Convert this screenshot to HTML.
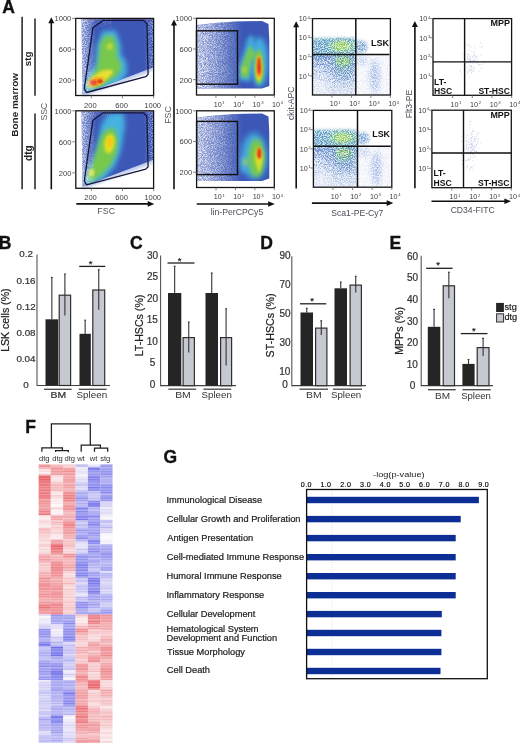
<!DOCTYPE html>
<html><head><meta charset="utf-8"><style>
html,body{margin:0;padding:0;background:#fff;width:520px;height:743px;overflow:hidden;}
svg{display:block;font-family:"Liberation Sans", sans-serif;filter:blur(0.35px);}
</style></head><body>
<svg width="520" height="743" viewBox="0 0 520 743" font-family='"Liberation Sans", sans-serif'><defs><filter id="s1" x="0" y="0" width="1" height="1" color-interpolation-filters="sRGB"><feTurbulence type="fractalNoise" baseFrequency="1.1" numOctaves="1" seed="3"/><feColorMatrix type="matrix" values="0 0 0 0 1.000 0 0 0 0 1.000 0 0 0 0 1.000 6 0 0 0 -2.6"/><feGaussianBlur stdDeviation="0.3"/><feComposite in2="SourceGraphic" operator="in"/></filter><filter id="s2" x="0" y="0" width="1" height="1" color-interpolation-filters="sRGB"><feTurbulence type="fractalNoise" baseFrequency="1.1" numOctaves="1" seed="11"/><feColorMatrix type="matrix" values="0 0 0 0 1.000 0 0 0 0 1.000 0 0 0 0 1.000 6 0 0 0 -2.6"/><feGaussianBlur stdDeviation="0.3"/><feComposite in2="SourceGraphic" operator="in"/></filter><filter id="s3" x="0" y="0" width="1" height="1" color-interpolation-filters="sRGB"><feTurbulence type="fractalNoise" baseFrequency="0.85" numOctaves="1" seed="5"/><feColorMatrix type="matrix" values="0 0 0 0 0.235 0 0 0 0 0.341 0 0 0 0 0.714 6 0 0 0 -2.6"/><feComposite in2="SourceGraphic" operator="in"/></filter><filter id="s4" x="0" y="0" width="1" height="1" color-interpolation-filters="sRGB"><feTurbulence type="fractalNoise" baseFrequency="1.13" numOctaves="1" seed="15"/><feColorMatrix type="matrix" values="0 0 0 0 0.196 0 0 0 0 0.298 0 0 0 0 0.667 7 0 0 0 -3.4"/><feComposite in2="SourceGraphic" operator="in"/></filter><filter id="b1" x="-50%" y="-50%" width="200%" height="200%"><feGaussianBlur stdDeviation="1.2"/></filter><clipPath id="c1"><polygon points="81.5,19.2 153.0,19.2 153.0,67.5 82.5,94.2"/></clipPath><filter id="b2" x="-50%" y="-50%" width="200%" height="200%"><feGaussianBlur stdDeviation="2.4"/></filter><filter id="b3" x="-50%" y="-50%" width="200%" height="200%"><feGaussianBlur stdDeviation="2.0"/></filter><filter id="b4" x="-50%" y="-50%" width="200%" height="200%"><feGaussianBlur stdDeviation="1.3"/></filter><filter id="b5" x="-50%" y="-50%" width="200%" height="200%"><feGaussianBlur stdDeviation="1.5"/></filter><filter id="b6" x="-50%" y="-50%" width="200%" height="200%"><feGaussianBlur stdDeviation="1.1"/></filter><filter id="b7" x="-50%" y="-50%" width="200%" height="200%"><feGaussianBlur stdDeviation="0.8"/></filter><filter id="b8" x="-50%" y="-50%" width="200%" height="200%"><feGaussianBlur stdDeviation="0.7"/></filter><linearGradient id="g1" x1="0" y1="0" x2="1" y2="0"><stop offset="0" stop-color="#fff" stop-opacity="0.45"/><stop offset="0.5" stop-color="#fff" stop-opacity="0.2"/><stop offset="1" stop-color="#fff" stop-opacity="0"/></linearGradient><linearGradient id="g2" x1="0" y1="0" x2="1" y2="0"><stop offset="0" stop-color="#fff" stop-opacity="0.7"/><stop offset="0.5" stop-color="#fff" stop-opacity="0.4"/><stop offset="1" stop-color="#fff" stop-opacity="0"/></linearGradient><linearGradient id="g3" x1="0" y1="0" x2="0" y2="1"><stop offset="0" stop-color="#fff" stop-opacity="0.3"/><stop offset="1" stop-color="#fff" stop-opacity="0"/></linearGradient><linearGradient id="g4" x1="0" y1="0" x2="1" y2="0"><stop offset="0" stop-color="#fff" stop-opacity="0"/><stop offset="1" stop-color="#fff" stop-opacity="0.55"/></linearGradient><clipPath id="c2"><polygon points="81.5,111.6 153.0,111.6 153.0,159.9 82.5,186.6"/></clipPath><filter id="b9" x="-50%" y="-50%" width="200%" height="200%"><feGaussianBlur stdDeviation="2.5"/></filter><filter id="b10" x="-50%" y="-50%" width="200%" height="200%"><feGaussianBlur stdDeviation="2.1"/></filter><filter id="b11" x="-50%" y="-50%" width="200%" height="200%"><feGaussianBlur stdDeviation="1.7"/></filter><linearGradient id="g5" x1="0" y1="0" x2="1" y2="0"><stop offset="0" stop-color="#fff" stop-opacity="0.45"/><stop offset="0.5" stop-color="#fff" stop-opacity="0.2"/><stop offset="1" stop-color="#fff" stop-opacity="0"/></linearGradient><linearGradient id="g6" x1="0" y1="0" x2="1" y2="0"><stop offset="0" stop-color="#fff" stop-opacity="0.7"/><stop offset="0.5" stop-color="#fff" stop-opacity="0.4"/><stop offset="1" stop-color="#fff" stop-opacity="0"/></linearGradient><linearGradient id="g7" x1="0" y1="0" x2="0" y2="1"><stop offset="0" stop-color="#fff" stop-opacity="0.3"/><stop offset="1" stop-color="#fff" stop-opacity="0"/></linearGradient><linearGradient id="g8" x1="0" y1="0" x2="1" y2="0"><stop offset="0" stop-color="#fff" stop-opacity="0"/><stop offset="1" stop-color="#fff" stop-opacity="0.55"/></linearGradient><clipPath id="c3"><polygon points="197.4,25.0 215.0,23.0 235.0,21.5 262.0,21.0 268.5,24.0 269.3,40.0 269.3,86.0 262.0,88.6 197.4,88.6"/></clipPath><filter id="b12" x="-50%" y="-50%" width="200%" height="200%"><feGaussianBlur stdDeviation="2.2"/></filter><filter id="b13" x="-50%" y="-50%" width="200%" height="200%"><feGaussianBlur stdDeviation="1.6"/></filter><filter id="b14" x="-50%" y="-50%" width="200%" height="200%"><feGaussianBlur stdDeviation="1.0"/></filter><linearGradient id="g9" x1="0" y1="0" x2="1" y2="0"><stop offset="0" stop-color="#fff" stop-opacity="0.62"/><stop offset="0.35" stop-color="#fff" stop-opacity="0.38"/><stop offset="0.7" stop-color="#fff" stop-opacity="0.14"/><stop offset="1" stop-color="#fff" stop-opacity="0"/></linearGradient><linearGradient id="g10" x1="0" y1="0" x2="1" y2="0"><stop offset="0" stop-color="#fff" stop-opacity="0.8"/><stop offset="0.3" stop-color="#fff" stop-opacity="0.55"/><stop offset="0.6" stop-color="#fff" stop-opacity="0.3"/><stop offset="0.9" stop-color="#fff" stop-opacity="0.06"/><stop offset="1" stop-color="#fff" stop-opacity="0"/></linearGradient><clipPath id="c4"><polygon points="197.4,117.5 215.0,115.5 235.0,114.0 262.0,113.5 268.5,116.5 269.3,132.5 269.3,178.5 262.0,181.1 197.4,181.1"/></clipPath><filter id="b15" x="-50%" y="-50%" width="200%" height="200%"><feGaussianBlur stdDeviation="3.0"/></filter><filter id="b16" x="-50%" y="-50%" width="200%" height="200%"><feGaussianBlur stdDeviation="1.4"/></filter><linearGradient id="g11" x1="0" y1="0" x2="1" y2="0"><stop offset="0" stop-color="#fff" stop-opacity="0.62"/><stop offset="0.35" stop-color="#fff" stop-opacity="0.38"/><stop offset="0.7" stop-color="#fff" stop-opacity="0.14"/><stop offset="1" stop-color="#fff" stop-opacity="0"/></linearGradient><linearGradient id="g12" x1="0" y1="0" x2="1" y2="0"><stop offset="0" stop-color="#fff" stop-opacity="0.8"/><stop offset="0.3" stop-color="#fff" stop-opacity="0.55"/><stop offset="0.6" stop-color="#fff" stop-opacity="0.3"/><stop offset="0.9" stop-color="#fff" stop-opacity="0.06"/><stop offset="1" stop-color="#fff" stop-opacity="0"/></linearGradient><filter id="s5" x="0" y="0" width="1" height="1" color-interpolation-filters="sRGB"><feTurbulence type="fractalNoise" baseFrequency="0.93" numOctaves="1" seed="21"/><feColorMatrix type="matrix" values="0 0 0 0 1.000 0 0 0 0 1.000 0 0 0 0 1.000 8 0 0 0 -3.5"/><feGaussianBlur stdDeviation="0.2"/><feComposite in2="SourceGraphic" operator="in"/></filter><filter id="s6" x="0" y="0" width="1" height="1" color-interpolation-filters="sRGB"><feTurbulence type="fractalNoise" baseFrequency="0.87" numOctaves="1" seed="8"/><feColorMatrix type="matrix" values="0 0 0 0 0.235 0 0 0 0 0.353 0 0 0 0 0.686 8 0 0 0 -4.3"/><feGaussianBlur stdDeviation="0.2"/><feComposite in2="SourceGraphic" operator="in"/></filter><clipPath id="c5"><polygon points="313.1,19.2 389.8,19.2 389.8,94.4 313.1,94.4"/></clipPath><linearGradient id="g13" x1="0" y1="0" x2="0" y2="1"><stop offset="0" stop-color="#7098d0" stop-opacity="1"/><stop offset="0.3" stop-color="#9ab4e0" stop-opacity="1"/><stop offset="0.7" stop-color="#c2d2ec" stop-opacity="1"/><stop offset="1" stop-color="#dae3f3" stop-opacity="1"/></linearGradient><filter id="b17" x="-50%" y="-50%" width="200%" height="200%"><feGaussianBlur stdDeviation="2.6"/></filter><filter id="b18" x="-50%" y="-50%" width="200%" height="200%"><feGaussianBlur stdDeviation="1.8"/></filter><linearGradient id="g14" x1="0" y1="0" x2="0" y2="1"><stop offset="0" stop-color="#fff" stop-opacity="0.6"/><stop offset="0.5" stop-color="#fff" stop-opacity="0.4"/><stop offset="1" stop-color="#fff" stop-opacity="0.15"/></linearGradient><clipPath id="c6"><polygon points="314.0,111.0 391.2,111.0 391.2,186.6 314.0,186.6"/></clipPath><linearGradient id="g15" x1="0" y1="0" x2="0" y2="1"><stop offset="0" stop-color="#7098d0" stop-opacity="1"/><stop offset="0.3" stop-color="#9ab4e0" stop-opacity="1"/><stop offset="0.7" stop-color="#c2d2ec" stop-opacity="1"/><stop offset="1" stop-color="#dae3f3" stop-opacity="1"/></linearGradient><linearGradient id="g16" x1="0" y1="0" x2="0" y2="1"><stop offset="0" stop-color="#fff" stop-opacity="0.6"/><stop offset="0.5" stop-color="#fff" stop-opacity="0.4"/><stop offset="1" stop-color="#fff" stop-opacity="0.15"/></linearGradient><filter id="b19" x="-50%" y="-50%" width="200%" height="200%"><feGaussianBlur stdDeviation="0.6"/></filter><clipPath id="c7"><polygon points="38.4,464.2 112.7,464.2 112.7,743.0 38.4,743.0"/></clipPath></defs><text x="2.20" y="12.70" font-size="17.50" font-weight="bold" fill="#111" stroke="#111" stroke-width="0.35">A</text>
<line x1="22.10" y1="16.80" x2="22.10" y2="189.30" stroke="#222" stroke-width="1.5"/>
<line x1="35.00" y1="18.40" x2="35.00" y2="95.80" stroke="#222" stroke-width="1.5"/>
<line x1="35.00" y1="113.40" x2="35.00" y2="189.30" stroke="#222" stroke-width="1.5"/>
<text transform="translate(17.89,136.65) rotate(-90)" x="0" y="0" font-size="9.96" font-weight="bold" fill="#222">Bone marrow</text>
<text transform="translate(31.48,66.14) rotate(-90)" x="0" y="0" font-size="9.79" font-weight="bold" fill="#222">stg</text>
<text transform="translate(31.87,160.90) rotate(-90)" x="0" y="0" font-size="10.00" font-weight="bold" fill="#222">dtg</text>
<line x1="51.30" y1="21.30" x2="51.30" y2="189.30" stroke="#111" stroke-width="1.6"/>
<path d="M48.30,23.30 L51.30,17.30 L54.30,23.30 Z" fill="#111"/>
<line x1="174.00" y1="23.60" x2="174.00" y2="189.30" stroke="#111" stroke-width="1.6"/>
<path d="M171.00,25.60 L174.00,19.60 L177.00,25.60 Z" fill="#111"/>
<line x1="296.20" y1="25.30" x2="296.20" y2="188.60" stroke="#111" stroke-width="1.6"/>
<path d="M293.20,27.30 L296.20,21.30 L299.20,27.30 Z" fill="#111"/>
<line x1="414.90" y1="25.00" x2="414.90" y2="188.30" stroke="#111" stroke-width="1.6"/>
<path d="M411.90,27.00 L414.90,21.00 L417.90,27.00 Z" fill="#111"/>
<line x1="76.30" y1="203.90" x2="150.30" y2="203.90" stroke="#111" stroke-width="1.6"/>
<path d="M147.70,201.10 L154.30,203.90 L147.70,206.70 Z" fill="#111"/>
<line x1="196.70" y1="204.00" x2="270.80" y2="204.00" stroke="#111" stroke-width="1.6"/>
<path d="M268.20,201.20 L274.80,204.00 L268.20,206.80 Z" fill="#111"/>
<line x1="311.90" y1="203.10" x2="389.30" y2="203.10" stroke="#111" stroke-width="1.6"/>
<path d="M386.70,200.30 L393.30,203.10 L386.70,205.90 Z" fill="#111"/>
<line x1="431.50" y1="201.20" x2="507.00" y2="201.20" stroke="#111" stroke-width="1.6"/>
<path d="M504.40,198.40 L511.00,201.20 L504.40,204.00 Z" fill="#111"/>
<text x="97.20" y="214.24" font-size="8.80" textLength="17.81" lengthAdjust="spacing" fill="#555">FSC</text>
<text x="210.63" y="215.00" font-size="8.70" fill="#4e4b58">lin-PerCPCy5</text>
<text x="331.31" y="216.00" font-size="8.60" fill="#4e4b58">Sca1-PE-Cy7</text>
<text x="450.66" y="213.40" font-size="8.60" fill="#4e4b58">CD34-FITC</text>
<text transform="translate(46.95,120.39) rotate(-90)" x="0" y="0" font-size="8.80" textLength="17.62" lengthAdjust="spacing" fill="#555">SSC</text>
<text transform="translate(170.85,123.80) rotate(-90)" x="0" y="0" font-size="8.80" textLength="17.61" lengthAdjust="spacing" fill="#555">FSC</text>
<text transform="translate(293.72,120.03) rotate(-90)" x="0" y="0" font-size="8.60" fill="#4e4b58">ckit-APC</text>
<text transform="translate(411.67,118.34) rotate(-90)" x="0" y="0" font-size="8.60" fill="#4e4b58">Flt3-PE</text>
<polygon points="82.0,92.0 153.0,65.0 153.0,71.0 83.0,97.0" fill="#b4c2e8" filter="url(#b1)" opacity="0.8"/>
<g clip-path="url(#c1)">
<rect x="75.70" y="18.40" width="77.90" height="77.10" fill="#3c57b6"/>
<rect x="75.70" y="18.40" width="77.90" height="2.00" fill="#50418c" opacity="0.7"/>
<polygon points="102.5,31.0 115.5,30.5 120.5,44.0 121.0,55.0 126.0,61.0 127.0,73.0 120.0,85.0 100.0,92.0 85.0,94.0 84.0,86.0 89.0,74.0 95.5,64.0 97.0,46.0" fill="#44b2e2" filter="url(#b2)"/>
<polygon points="104.5,36.0 113.5,35.5 117.0,46.0 117.0,57.0 121.0,63.0 121.0,71.0 113.0,79.0 100.0,86.0 89.0,89.0 87.0,85.0 92.0,76.0 97.0,68.0 99.0,56.0 100.0,44.0" fill="#78c84c" filter="url(#b3)"/>
<ellipse cx="109.8" cy="46.5" rx="3" ry="3.5" fill="#b8d840" filter="url(#b4)"/>
<polygon points="101.0,71.0 108.0,69.5 112.0,70.0 113.0,73.0 107.0,79.0 98.0,85.5 90.0,87.5 87.5,84.0 92.0,77.0" fill="#e8e030" filter="url(#b5)"/>
<ellipse cx="96.5" cy="81.6" rx="8" ry="4.2" fill="#f49a1e" filter="url(#b6)" transform="rotate(-12 96.5 81.6)"/>
<ellipse cx="93" cy="82.6" rx="3.6" ry="2.6" fill="#e0301e" filter="url(#b7)"/>
<ellipse cx="100" cy="81.3" rx="2.6" ry="2.1" fill="#e84a1e" filter="url(#b8)"/>
<rect x="80.00" y="18.40" width="16.00" height="77.10" fill="url(#g1)"/>
<rect x="80.00" y="18.40" width="16.00" height="77.10" fill="url(#g2)" filter="url(#s1)"/>
<rect x="82.00" y="18.40" width="30.00" height="10.00" fill="url(#g3)" filter="url(#s2)"/>
<rect x="144.00" y="18.40" width="10.00" height="77.10" fill="url(#g4)" filter="url(#s2)"/>
</g>
<polygon points="92.9,27.8 103.2,20.4 143.4,20.4 146.9,23.9 148.1,74.4 145.8,76.7 86.6,92.5 84.3,88.6" fill="none" stroke="#16163a" stroke-width="1.3" stroke-linejoin="round"/>
<polygon points="82.0,184.4 153.0,157.4 153.0,163.4 83.0,189.4" fill="#b4c2e8" filter="url(#b1)" opacity="0.8"/>
<g clip-path="url(#c2)">
<rect x="75.80" y="110.80" width="77.80" height="77.50" fill="#3c57b6"/>
<rect x="75.80" y="110.80" width="77.80" height="2.00" fill="#48489a" opacity="0.55"/>
<polygon points="105.0,118.0 112.0,113.0 124.0,113.0 125.0,126.0 121.0,150.0 115.0,166.0 104.0,179.0 92.0,185.0 85.0,185.0 84.0,176.0 93.5,160.0 98.5,140.0 101.0,126.0" fill="#44b2e2" filter="url(#b9)"/>
<polygon points="107.0,129.0 114.0,128.0 117.5,138.0 116.5,154.0 110.0,166.0 100.0,176.0 90.0,182.0 87.0,178.0 92.0,166.0 97.0,149.0 101.0,136.0" fill="#78c84c" filter="url(#b10)"/>
<ellipse cx="109.5" cy="143.5" rx="5.2" ry="9.8" fill="#e2e026" filter="url(#b11)" transform="rotate(8 109.5 143.5)"/>
<ellipse cx="110" cy="142" rx="3" ry="5.2" fill="#f8c818" filter="url(#b1)"/>
<ellipse cx="91.4" cy="172.7" rx="3.0" ry="3.4" fill="#d8e040" filter="url(#b1)"/>
<rect x="80.00" y="110.80" width="16.00" height="77.50" fill="url(#g5)"/>
<rect x="80.00" y="110.80" width="16.00" height="77.50" fill="url(#g6)" filter="url(#s1)"/>
<rect x="82.00" y="110.80" width="30.00" height="10.00" fill="url(#g7)" filter="url(#s2)"/>
<rect x="144.00" y="110.80" width="10.00" height="77.50" fill="url(#g8)" filter="url(#s2)"/>
</g>
<polygon points="92.9,120.2 103.2,112.8 143.4,112.8 146.9,116.3 148.1,166.8 145.8,169.1 86.6,184.9 84.3,181.0" fill="none" stroke="#16163a" stroke-width="1.3" stroke-linejoin="round"/>
<g clip-path="url(#c3)">
<rect x="196.50" y="18.30" width="77.80" height="76.70" fill="#3c57b6"/>
<polygon points="239.5,80.0 239.0,68.0 243.0,55.0 247.0,40.0 250.0,35.0 254.0,37.0 255.0,50.0 253.0,66.0 250.0,82.0" fill="#44b2e2" filter="url(#b12)" opacity="0.95"/>
<ellipse cx="259.5" cy="62" rx="8.5" ry="25" fill="#44b2e2" filter="url(#b9)" opacity="0.95"/>
<polygon points="241.0,77.0 241.5,66.0 245.0,56.0 249.0,47.0 252.0,46.0 253.0,55.0 250.0,68.0 248.0,78.0" fill="#78c84c" filter="url(#b13)" opacity="0.9"/>
<ellipse cx="252.5" cy="55" rx="4" ry="4" fill="#78c84c" filter="url(#b13)" opacity="0.8"/>
<ellipse cx="244.4" cy="70" rx="2.5" ry="3.2" fill="#a8d040" filter="url(#b1)"/>
<ellipse cx="259" cy="67" rx="4.6" ry="17.5" fill="#78c84c" filter="url(#b13)"/>
<ellipse cx="259" cy="68" rx="3.2" ry="13" fill="#f0e228" filter="url(#b1)"/>
<ellipse cx="259.2" cy="72" rx="2.6" ry="6" fill="#f49a1e" filter="url(#b14)"/>
<ellipse cx="259" cy="65.5" rx="2.0" ry="9" fill="#e0301e" filter="url(#b7)"/>
<rect x="197.00" y="18.30" width="46.00" height="76.70" fill="url(#g9)"/>
<rect x="197.00" y="18.30" width="46.00" height="76.70" fill="url(#g10)" filter="url(#s1)"/>
<rect x="197.00" y="18.30" width="46.00" height="76.70" fill="url(#g10)" fill-opacity="0.5" filter="url(#s4)"/>
</g>
<rect x="196.50" y="30.80" width="41.00" height="53.40" fill="none" stroke="#111" stroke-width="1.4"/>
<g clip-path="url(#c4)">
<rect x="196.60" y="110.80" width="77.70" height="76.70" fill="#3c57b6"/>
<ellipse cx="254" cy="156" rx="12.5" ry="23" fill="#44b2e2" filter="url(#b15)" opacity="0.95"/>
<ellipse cx="244.5" cy="164" rx="4" ry="9" fill="#44b2e2" filter="url(#b3)" opacity="0.9"/>
<ellipse cx="256.5" cy="158" rx="8" ry="19" fill="#78c84c" filter="url(#b12)"/>
<ellipse cx="245.5" cy="162" rx="3" ry="4" fill="#8cc870" filter="url(#b13)" opacity="0.8"/>
<ellipse cx="259" cy="157" rx="3.6" ry="10" fill="#f0e228" filter="url(#b16)"/>
<ellipse cx="259" cy="166" rx="2" ry="6" fill="#c8dc30" filter="url(#b1)"/>
<ellipse cx="259.2" cy="153.5" rx="2.1" ry="5.8" fill="#e0301e" filter="url(#b7)"/>
<rect x="197.00" y="110.80" width="46.00" height="76.70" fill="url(#g11)"/>
<rect x="197.00" y="110.80" width="46.00" height="76.70" fill="url(#g12)" filter="url(#s1)"/>
<rect x="197.00" y="110.80" width="46.00" height="76.70" fill="url(#g12)" fill-opacity="0.5" filter="url(#s4)"/>
</g>
<rect x="196.60" y="121.40" width="40.90" height="53.20" fill="none" stroke="#111" stroke-width="1.4"/>
<g clip-path="url(#c5)">
<rect x="312.5" y="54.6" width="43.30000000000001" height="40.4" fill="url(#g13)"/>
<ellipse cx="343.5" cy="66.6" rx="11" ry="14" fill="#6f9ccc" filter="url(#b15)" opacity="0.9"/>
<ellipse cx="343.5" cy="59.6" rx="10" ry="6" fill="#64a8b4" filter="url(#b12)" opacity="0.9"/>
<ellipse cx="318.5" cy="80.6" rx="8" ry="16" fill="#dfe7f5" filter="url(#b15)" opacity="0.6"/>
<rect x="355.8" y="54.6" width="34.599999999999966" height="40.4" fill="#f5f7fc"/>
<ellipse cx="374.8" cy="76.6" rx="5" ry="17" fill="#a0b8e4" filter="url(#b17)" opacity="0.9"/>
<ellipse cx="361.8" cy="60.6" rx="6" ry="5" fill="#c4d4ee" filter="url(#b3)" opacity="0.9"/>
<rect x="309.5" y="38.1" width="46.30000000000001" height="18" rx="3" fill="#5c9cc4" filter="url(#b16)"/>
<ellipse cx="360.8" cy="46.6" rx="7" ry="6.5" fill="#84aad6" filter="url(#b18)"/>
<ellipse cx="341.5" cy="46.1" rx="15" ry="6.5" fill="#6cb69c" filter="url(#b3)"/>
<ellipse cx="341.5" cy="46.1" rx="8.5" ry="4.5" fill="#92cc58" filter="url(#b13)"/>
<ellipse cx="343.5" cy="62.6" rx="9" ry="7.5" fill="#6cb4a0" filter="url(#b3)" opacity="0.9"/>
<ellipse cx="343.0" cy="61.1" rx="7" ry="4.5" fill="#84c46c" filter="url(#b13)"/>
<rect x="312.50" y="18.60" width="77.90" height="76.40" fill="#fff" fill-opacity="0.7" filter="url(#s5)"/>
<rect x="312.50" y="54.60" width="43.30" height="40.40" fill="url(#g14)" filter="url(#s6)"/>
<ellipse cx="320.5" cy="87.0" rx="10" ry="9" fill="#ffffff" filter="url(#b15)" opacity="0.35"/>
<rect x="355.80" y="54.60" width="34.60" height="40.40" fill="#fff" fill-opacity="0.1" filter="url(#s6)"/>
</g>
<line x1="355.80" y1="18.60" x2="355.80" y2="95.00" stroke="#111" stroke-width="1.5"/>
<line x1="312.50" y1="54.60" x2="389.40" y2="54.60" stroke="#111" stroke-width="1.5"/>
<text x="370.91" y="45.95" font-size="9.14" font-weight="bold" fill="#111">LSK</text>
<g clip-path="url(#c6)">
<rect x="313.4" y="146.2" width="44.10000000000002" height="41.0" fill="url(#g15)"/>
<ellipse cx="344.4" cy="158.2" rx="11" ry="14" fill="#6f9ccc" filter="url(#b15)" opacity="0.9"/>
<ellipse cx="344.4" cy="151.2" rx="10" ry="6" fill="#64a8b4" filter="url(#b12)" opacity="0.9"/>
<ellipse cx="319.4" cy="172.2" rx="8" ry="16" fill="#dfe7f5" filter="url(#b15)" opacity="0.6"/>
<rect x="357.5" y="146.2" width="34.30000000000001" height="41.0" fill="#f5f7fc"/>
<ellipse cx="376.5" cy="168.2" rx="5" ry="17" fill="#a0b8e4" filter="url(#b17)" opacity="0.9"/>
<ellipse cx="363.5" cy="152.2" rx="6" ry="5" fill="#c4d4ee" filter="url(#b3)" opacity="0.9"/>
<rect x="310.4" y="129.7" width="47.10000000000002" height="18" rx="3" fill="#5c9cc4" filter="url(#b16)"/>
<ellipse cx="362.5" cy="138.2" rx="7" ry="6.5" fill="#84aad6" filter="url(#b18)"/>
<ellipse cx="342.4" cy="137.7" rx="15" ry="6.5" fill="#6cb69c" filter="url(#b3)"/>
<ellipse cx="342.4" cy="137.7" rx="8.5" ry="4.5" fill="#92cc58" filter="url(#b13)"/>
<ellipse cx="344.4" cy="154.2" rx="9" ry="7.5" fill="#6cb4a0" filter="url(#b3)" opacity="0.9"/>
<ellipse cx="343.9" cy="152.7" rx="7" ry="4.5" fill="#84c46c" filter="url(#b13)"/>
<rect x="313.40" y="110.40" width="78.40" height="76.80" fill="#fff" fill-opacity="0.7" filter="url(#s5)"/>
<rect x="313.40" y="146.20" width="44.10" height="41.00" fill="url(#g16)" filter="url(#s6)"/>
<ellipse cx="321.4" cy="179.2" rx="10" ry="9" fill="#ffffff" filter="url(#b15)" opacity="0.35"/>
<rect x="357.50" y="146.20" width="34.30" height="41.00" fill="#fff" fill-opacity="0.1" filter="url(#s6)"/>
</g>
<line x1="357.50" y1="110.40" x2="357.50" y2="187.20" stroke="#111" stroke-width="1.5"/>
<line x1="313.40" y1="146.20" x2="390.80" y2="146.20" stroke="#111" stroke-width="1.5"/>
<text x="372.22" y="137.06" font-size="8.88" font-weight="bold" fill="#111">LSK</text>
<path d="M471.6,73.5h0.8v0.8h-0.8zM466.4,71.3h0.8v0.8h-0.8zM469.8,60.7h0.8v0.8h-0.8zM480.6,64.2h0.8v0.8h-0.8zM470.9,69.1h0.8v0.8h-0.8zM476.7,62.6h0.8v0.8h-0.8zM474.0,54.6h0.8v0.8h-0.8zM469.3,59.2h0.8v0.8h-0.8zM464.4,50.1h0.8v0.8h-0.8zM463.0,60.9h0.8v0.8h-0.8zM470.2,60.2h0.8v0.8h-0.8zM471.4,51.5h0.8v0.8h-0.8zM470.7,64.9h0.8v0.8h-0.8zM474.9,55.7h0.8v0.8h-0.8zM469.1,45.8h0.8v0.8h-0.8zM468.6,44.2h0.8v0.8h-0.8zM464.0,72.3h0.8v0.8h-0.8zM460.1,69.7h0.8v0.8h-0.8zM472.7,60.2h0.8v0.8h-0.8zM473.4,67.4h0.8v0.8h-0.8zM476.3,60.9h0.8v0.8h-0.8zM468.1,57.8h0.8v0.8h-0.8zM466.2,62.5h0.8v0.8h-0.8zM467.2,72.0h0.8v0.8h-0.8zM461.8,53.6h0.8v0.8h-0.8zM466.3,45.1h0.8v0.8h-0.8zM480.6,42.4h0.8v0.8h-0.8zM469.7,58.4h0.8v0.8h-0.8zM479.4,46.0h0.8v0.8h-0.8zM476.5,56.7h0.8v0.8h-0.8zM470.3,57.2h0.8v0.8h-0.8zM474.3,53.2h0.8v0.8h-0.8zM470.7,65.9h0.8v0.8h-0.8zM480.3,42.5h0.8v0.8h-0.8zM478.7,71.0h0.8v0.8h-0.8zM468.7,65.5h0.8v0.8h-0.8zM468.8,76.9h0.8v0.8h-0.8zM472.1,61.1h0.8v0.8h-0.8zM470.0,61.2h0.8v0.8h-0.8zM470.2,55.4h0.8v0.8h-0.8zM481.4,46.7h0.8v0.8h-0.8zM453.1,61.9h0.8v0.8h-0.8zM470.4,66.1h0.8v0.8h-0.8zM470.1,61.6h0.8v0.8h-0.8zM472.8,71.1h0.8v0.8h-0.8zM468.9,59.7h0.8v0.8h-0.8zM480.8,67.4h0.8v0.8h-0.8zM466.2,82.7h0.8v0.8h-0.8zM475.0,57.9h0.8v0.8h-0.8zM465.2,65.4h0.8v0.8h-0.8zM466.9,53.9h0.8v0.8h-0.8zM464.6,58.6h0.8v0.8h-0.8zM476.6,59.2h0.8v0.8h-0.8zM463.9,68.6h0.8v0.8h-0.8zM471.4,70.1h0.8v0.8h-0.8zM477.1,61.5h0.8v0.8h-0.8zM470.4,62.5h0.8v0.8h-0.8zM465.4,68.6h0.8v0.8h-0.8zM478.0,64.4h0.8v0.8h-0.8zM469.9,60.7h0.8v0.8h-0.8zM467.2,56.1h0.8v0.8h-0.8zM469.1,55.7h0.8v0.8h-0.8zM468.9,49.5h0.8v0.8h-0.8zM472.9,63.3h0.8v0.8h-0.8zM465.3,43.4h0.8v0.8h-0.8zM471.1,72.3h0.8v0.8h-0.8zM467.4,58.8h0.8v0.8h-0.8zM468.3,68.5h0.8v0.8h-0.8zM466.5,71.3h0.8v0.8h-0.8zM469.6,70.8h0.8v0.8h-0.8zM471.3,60.9h0.8v0.8h-0.8zM463.7,57.1h0.8v0.8h-0.8zM469.8,68.5h0.8v0.8h-0.8zM472.3,57.0h0.8v0.8h-0.8zM473.1,71.3h0.8v0.8h-0.8zM470.4,59.2h0.8v0.8h-0.8zM469.1,69.8h0.8v0.8h-0.8zM473.8,55.0h0.8v0.8h-0.8zM473.0,58.8h0.8v0.8h-0.8zM467.3,73.4h0.8v0.8h-0.8zM475.2,56.7h0.8v0.8h-0.8zM471.5,67.2h0.8v0.8h-0.8zM467.9,61.9h0.8v0.8h-0.8zM474.4,47.7h0.8v0.8h-0.8zM472.7,69.2h0.8v0.8h-0.8zM473.6,51.5h0.8v0.8h-0.8zM472.7,55.6h0.8v0.8h-0.8zM473.9,68.0h0.8v0.8h-0.8zM472.2,56.4h0.8v0.8h-0.8zM468.1,70.2h0.8v0.8h-0.8zM466.6,67.1h0.8v0.8h-0.8zM473.7,60.5h0.8v0.8h-0.8zM483.1,63.5h0.8v0.8h-0.8zM481.8,45.8h0.8v0.8h-0.8zM459.9,71.2h0.8v0.8h-0.8zM474.3,60.2h0.8v0.8h-0.8zM470.8,46.7h0.8v0.8h-0.8zM468.0,54.1h0.8v0.8h-0.8zM470.0,70.4h0.8v0.8h-0.8zM471.4,66.1h0.8v0.8h-0.8zM467.6,59.2h0.8v0.8h-0.8zM471.7,60.5h0.8v0.8h-0.8zM477.4,55.5h0.8v0.8h-0.8zM480.6,54.6h0.8v0.8h-0.8zM476.4,56.3h0.8v0.8h-0.8zM479.3,64.1h0.8v0.8h-0.8zM473.1,69.2h0.8v0.8h-0.8zM467.9,54.0h0.8v0.8h-0.8zM461.0,73.3h0.8v0.8h-0.8zM467.6,57.9h0.8v0.8h-0.8z" fill="#8c98cc" opacity="0.55"/>
<line x1="464.60" y1="18.60" x2="464.60" y2="95.30" stroke="#111" stroke-width="1.4"/>
<line x1="433.00" y1="61.90" x2="511.60" y2="61.90" stroke="#111" stroke-width="1.4"/>
<text x="490.41" y="26.02" font-size="9.03" font-weight="bold" fill="#111">MPP</text>
<text x="434.04" y="84.97" font-size="8.60" font-weight="bold" fill="#111">LT-</text>
<text x="434.04" y="94.17" font-size="8.60" font-weight="bold" fill="#111">HSC</text>
<text x="478.40" y="94.17" font-size="8.60" font-weight="bold" fill="#111">ST-HSC</text>
<path d="M470.2,151.6h0.8v0.8h-0.8zM468.1,150.5h0.8v0.8h-0.8zM473.9,151.1h0.8v0.8h-0.8zM476.6,138.1h0.8v0.8h-0.8zM470.3,139.9h0.8v0.8h-0.8zM466.7,145.2h0.8v0.8h-0.8zM470.9,151.2h0.8v0.8h-0.8zM472.1,169.3h0.8v0.8h-0.8zM473.6,131.1h0.8v0.8h-0.8zM470.9,140.8h0.8v0.8h-0.8zM467.8,160.1h0.8v0.8h-0.8zM469.1,127.5h0.8v0.8h-0.8zM471.3,144.1h0.8v0.8h-0.8zM465.1,137.8h0.8v0.8h-0.8zM467.4,146.8h0.8v0.8h-0.8zM468.2,147.7h0.8v0.8h-0.8zM477.7,139.0h0.8v0.8h-0.8zM466.6,144.5h0.8v0.8h-0.8zM474.6,139.9h0.8v0.8h-0.8zM476.0,133.9h0.8v0.8h-0.8zM465.7,146.5h0.8v0.8h-0.8zM466.4,140.8h0.8v0.8h-0.8zM471.9,154.2h0.8v0.8h-0.8zM470.5,144.3h0.8v0.8h-0.8zM475.6,151.0h0.8v0.8h-0.8zM469.0,159.1h0.8v0.8h-0.8zM466.2,148.6h0.8v0.8h-0.8zM472.8,146.9h0.8v0.8h-0.8zM467.6,150.5h0.8v0.8h-0.8zM467.7,141.0h0.8v0.8h-0.8zM465.7,160.0h0.8v0.8h-0.8zM467.7,158.5h0.8v0.8h-0.8zM471.6,144.4h0.8v0.8h-0.8zM472.8,149.7h0.8v0.8h-0.8zM470.6,133.2h0.8v0.8h-0.8zM470.3,155.9h0.8v0.8h-0.8zM472.0,157.0h0.8v0.8h-0.8zM476.3,151.1h0.8v0.8h-0.8zM478.3,131.9h0.8v0.8h-0.8zM469.0,121.8h0.8v0.8h-0.8zM473.4,147.9h0.8v0.8h-0.8zM477.1,143.3h0.8v0.8h-0.8zM461.5,159.8h0.8v0.8h-0.8zM464.4,134.3h0.8v0.8h-0.8zM469.3,153.3h0.8v0.8h-0.8zM467.9,148.9h0.8v0.8h-0.8zM462.1,164.3h0.8v0.8h-0.8zM469.7,148.2h0.8v0.8h-0.8zM472.5,148.7h0.8v0.8h-0.8zM470.8,137.7h0.8v0.8h-0.8zM469.5,151.4h0.8v0.8h-0.8zM474.4,145.8h0.8v0.8h-0.8zM470.4,150.4h0.8v0.8h-0.8zM472.4,149.1h0.8v0.8h-0.8zM468.9,141.9h0.8v0.8h-0.8zM474.7,150.0h0.8v0.8h-0.8zM470.1,181.8h0.8v0.8h-0.8zM473.7,155.5h0.8v0.8h-0.8zM470.6,136.9h0.8v0.8h-0.8zM474.8,146.1h0.8v0.8h-0.8zM470.2,157.3h0.8v0.8h-0.8zM474.3,149.4h0.8v0.8h-0.8zM470.1,168.0h0.8v0.8h-0.8zM472.4,136.7h0.8v0.8h-0.8zM473.2,148.5h0.8v0.8h-0.8zM470.1,153.8h0.8v0.8h-0.8zM471.0,167.1h0.8v0.8h-0.8zM470.9,149.5h0.8v0.8h-0.8zM474.9,141.4h0.8v0.8h-0.8zM474.3,146.4h0.8v0.8h-0.8zM475.0,138.5h0.8v0.8h-0.8zM471.8,131.0h0.8v0.8h-0.8zM468.1,147.2h0.8v0.8h-0.8zM472.1,166.7h0.8v0.8h-0.8zM477.7,133.6h0.8v0.8h-0.8zM466.8,159.5h0.8v0.8h-0.8zM471.8,133.3h0.8v0.8h-0.8zM472.0,135.7h0.8v0.8h-0.8zM466.4,134.4h0.8v0.8h-0.8zM468.9,169.5h0.8v0.8h-0.8zM471.6,145.9h0.8v0.8h-0.8zM480.6,142.4h0.8v0.8h-0.8zM469.4,144.4h0.8v0.8h-0.8zM471.8,143.9h0.8v0.8h-0.8zM476.1,144.1h0.8v0.8h-0.8zM472.4,149.2h0.8v0.8h-0.8zM466.4,137.3h0.8v0.8h-0.8zM469.8,124.1h0.8v0.8h-0.8zM470.1,147.8h0.8v0.8h-0.8zM470.6,146.2h0.8v0.8h-0.8zM471.5,143.5h0.8v0.8h-0.8zM472.7,130.7h0.8v0.8h-0.8zM473.8,138.2h0.8v0.8h-0.8zM472.0,142.4h0.8v0.8h-0.8zM468.2,139.1h0.8v0.8h-0.8zM475.6,136.2h0.8v0.8h-0.8zM464.9,149.2h0.8v0.8h-0.8zM471.1,147.4h0.8v0.8h-0.8zM466.0,140.5h0.8v0.8h-0.8zM473.8,136.7h0.8v0.8h-0.8zM472.6,154.3h0.8v0.8h-0.8zM470.6,134.9h0.8v0.8h-0.8zM478.0,148.3h0.8v0.8h-0.8zM470.8,143.3h0.8v0.8h-0.8zM466.0,144.4h0.8v0.8h-0.8zM470.8,138.6h0.8v0.8h-0.8zM470.5,158.5h0.8v0.8h-0.8zM471.8,146.1h0.8v0.8h-0.8zM474.4,156.2h0.8v0.8h-0.8zM473.8,139.1h0.8v0.8h-0.8zM462.4,155.0h0.8v0.8h-0.8zM470.3,143.3h0.8v0.8h-0.8zM472.0,142.5h0.8v0.8h-0.8zM467.4,165.0h0.8v0.8h-0.8zM463.4,155.4h0.8v0.8h-0.8zM474.2,164.7h0.8v0.8h-0.8zM471.1,152.1h0.8v0.8h-0.8zM466.2,147.3h0.8v0.8h-0.8zM461.2,141.4h0.8v0.8h-0.8zM469.9,146.0h0.8v0.8h-0.8zM468.0,158.6h0.8v0.8h-0.8zM463.4,148.3h0.8v0.8h-0.8zM468.3,147.4h0.8v0.8h-0.8zM470.2,166.4h0.8v0.8h-0.8zM465.5,160.4h0.8v0.8h-0.8zM475.9,145.7h0.8v0.8h-0.8zM467.4,134.7h0.8v0.8h-0.8zM466.4,167.4h0.8v0.8h-0.8zM461.0,151.5h0.8v0.8h-0.8zM467.1,165.9h0.8v0.8h-0.8zM471.3,133.6h0.8v0.8h-0.8zM467.8,149.0h0.8v0.8h-0.8zM470.5,137.6h0.8v0.8h-0.8zM468.8,142.4h0.8v0.8h-0.8zM472.0,149.8h0.8v0.8h-0.8zM471.0,141.2h0.8v0.8h-0.8zM473.3,141.4h0.8v0.8h-0.8zM466.5,142.7h0.8v0.8h-0.8zM468.7,144.0h0.8v0.8h-0.8zM461.9,160.5h0.8v0.8h-0.8zM472.6,160.2h0.8v0.8h-0.8zM468.4,154.5h0.8v0.8h-0.8zM470.8,147.3h0.8v0.8h-0.8zM477.5,141.1h0.8v0.8h-0.8zM472.4,129.8h0.8v0.8h-0.8zM472.4,145.3h0.8v0.8h-0.8zM465.8,141.1h0.8v0.8h-0.8zM461.1,136.4h0.8v0.8h-0.8zM470.7,120.8h0.8v0.8h-0.8zM474.5,156.7h0.8v0.8h-0.8z" fill="#8c98cc" opacity="0.55"/>
<line x1="463.50" y1="110.20" x2="463.50" y2="187.70" stroke="#111" stroke-width="1.4"/>
<line x1="431.90" y1="153.00" x2="511.30" y2="153.00" stroke="#111" stroke-width="1.4"/>
<text x="490.42" y="117.68" font-size="8.94" font-weight="bold" fill="#111">MPP</text>
<text x="433.44" y="176.47" font-size="8.60" font-weight="bold" fill="#111">LT-</text>
<text x="433.44" y="185.57" font-size="8.60" font-weight="bold" fill="#111">HSC</text>
<text x="478.00" y="185.57" font-size="8.60" font-weight="bold" fill="#111">ST-HSC</text>
<rect x="75.70" y="18.40" width="77.90" height="77.10" fill="none" stroke="#151515" stroke-width="1.3"/>
<rect x="75.80" y="110.80" width="77.80" height="77.50" fill="none" stroke="#151515" stroke-width="1.3"/>
<rect x="196.50" y="18.30" width="77.80" height="76.70" fill="none" stroke="#151515" stroke-width="1.3"/>
<rect x="196.60" y="110.80" width="77.70" height="76.70" fill="none" stroke="#151515" stroke-width="1.3"/>
<rect x="312.50" y="18.60" width="77.90" height="76.40" fill="none" stroke="#151515" stroke-width="1.3"/>
<rect x="313.40" y="110.40" width="78.40" height="76.80" fill="none" stroke="#151515" stroke-width="1.3"/>
<rect x="433.00" y="18.60" width="78.60" height="76.70" fill="none" stroke="#151515" stroke-width="1.3"/>
<rect x="431.90" y="110.20" width="79.40" height="77.50" fill="none" stroke="#151515" stroke-width="1.3"/>
<line x1="72.10" y1="18.40" x2="75.70" y2="18.40" stroke="#666" stroke-width="0.8"/>
<text x="54.46" y="21.32" font-size="7.60" fill="#3e3e3e">1000</text>
<line x1="72.10" y1="49.24" x2="75.70" y2="49.24" stroke="#666" stroke-width="0.8"/>
<text x="58.71" y="52.16" font-size="7.60" fill="#3e3e3e">600</text>
<line x1="72.10" y1="80.08" x2="75.70" y2="80.08" stroke="#666" stroke-width="0.8"/>
<text x="58.71" y="83.00" font-size="7.60" fill="#3e3e3e">200</text>
<line x1="91.28" y1="95.50" x2="91.28" y2="98.30" stroke="#666" stroke-width="0.8"/>
<text x="84.10" y="107.62" font-size="7.60" fill="#3e3e3e">200</text>
<line x1="122.44" y1="95.50" x2="122.44" y2="98.30" stroke="#666" stroke-width="0.8"/>
<text x="115.26" y="107.62" font-size="7.60" fill="#3e3e3e">600</text>
<line x1="153.60" y1="95.50" x2="153.60" y2="98.30" stroke="#666" stroke-width="0.8"/>
<text x="144.19" y="107.62" font-size="7.60" fill="#3e3e3e">1000</text>
<line x1="72.20" y1="110.80" x2="75.80" y2="110.80" stroke="#666" stroke-width="0.8"/>
<text x="54.56" y="113.72" font-size="7.60" fill="#3e3e3e">1000</text>
<line x1="72.20" y1="141.80" x2="75.80" y2="141.80" stroke="#666" stroke-width="0.8"/>
<text x="58.81" y="144.72" font-size="7.60" fill="#3e3e3e">600</text>
<line x1="72.20" y1="172.80" x2="75.80" y2="172.80" stroke="#666" stroke-width="0.8"/>
<text x="58.81" y="175.72" font-size="7.60" fill="#3e3e3e">200</text>
<line x1="91.36" y1="188.30" x2="91.36" y2="191.10" stroke="#666" stroke-width="0.8"/>
<text x="84.18" y="200.42" font-size="7.60" fill="#3e3e3e">200</text>
<line x1="122.48" y1="188.30" x2="122.48" y2="191.10" stroke="#666" stroke-width="0.8"/>
<text x="115.30" y="200.42" font-size="7.60" fill="#3e3e3e">600</text>
<line x1="153.60" y1="188.30" x2="153.60" y2="191.10" stroke="#666" stroke-width="0.8"/>
<text x="144.19" y="200.42" font-size="7.60" fill="#3e3e3e">1000</text>
<line x1="192.90" y1="18.30" x2="196.50" y2="18.30" stroke="#666" stroke-width="0.8"/>
<text x="175.26" y="21.22" font-size="7.60" fill="#3e3e3e">1000</text>
<line x1="192.90" y1="48.98" x2="196.50" y2="48.98" stroke="#666" stroke-width="0.8"/>
<text x="179.51" y="51.90" font-size="7.60" fill="#3e3e3e">600</text>
<line x1="192.90" y1="79.66" x2="196.50" y2="79.66" stroke="#666" stroke-width="0.8"/>
<text x="179.51" y="82.58" font-size="7.60" fill="#3e3e3e">200</text>
<line x1="215.95" y1="95.00" x2="215.95" y2="97.80" stroke="#666" stroke-width="0.8"/>
<text x="213.71" y="106.98" font-size="7.2" fill="#3e3e3e">10<tspan font-size="4.2" dx="0.6" dy="-2.6">1</tspan></text>
<line x1="235.40" y1="95.00" x2="235.40" y2="97.80" stroke="#666" stroke-width="0.8"/>
<text x="233.16" y="106.98" font-size="7.2" fill="#3e3e3e">10<tspan font-size="4.2" dx="0.6" dy="-2.6">2</tspan></text>
<line x1="254.85" y1="95.00" x2="254.85" y2="97.80" stroke="#666" stroke-width="0.8"/>
<text x="252.61" y="106.98" font-size="7.2" fill="#3e3e3e">10<tspan font-size="4.2" dx="0.6" dy="-2.6">3</tspan></text>
<line x1="274.30" y1="95.00" x2="274.30" y2="97.80" stroke="#666" stroke-width="0.8"/>
<text x="272.06" y="106.98" font-size="7.2" fill="#3e3e3e">10<tspan font-size="4.2" dx="0.6" dy="-2.6">4</tspan></text>
<line x1="193.00" y1="110.80" x2="196.60" y2="110.80" stroke="#666" stroke-width="0.8"/>
<text x="175.36" y="113.72" font-size="7.60" fill="#3e3e3e">1000</text>
<line x1="193.00" y1="141.48" x2="196.60" y2="141.48" stroke="#666" stroke-width="0.8"/>
<text x="179.61" y="144.40" font-size="7.60" fill="#3e3e3e">600</text>
<line x1="193.00" y1="172.16" x2="196.60" y2="172.16" stroke="#666" stroke-width="0.8"/>
<text x="179.61" y="175.08" font-size="7.60" fill="#3e3e3e">200</text>
<line x1="216.03" y1="187.50" x2="216.03" y2="190.30" stroke="#666" stroke-width="0.8"/>
<text x="213.79" y="199.48" font-size="7.2" fill="#3e3e3e">10<tspan font-size="4.2" dx="0.6" dy="-2.6">1</tspan></text>
<line x1="235.45" y1="187.50" x2="235.45" y2="190.30" stroke="#666" stroke-width="0.8"/>
<text x="233.21" y="199.48" font-size="7.2" fill="#3e3e3e">10<tspan font-size="4.2" dx="0.6" dy="-2.6">2</tspan></text>
<line x1="254.88" y1="187.50" x2="254.88" y2="190.30" stroke="#666" stroke-width="0.8"/>
<text x="252.64" y="199.48" font-size="7.2" fill="#3e3e3e">10<tspan font-size="4.2" dx="0.6" dy="-2.6">3</tspan></text>
<line x1="274.30" y1="187.50" x2="274.30" y2="190.30" stroke="#666" stroke-width="0.8"/>
<text x="272.06" y="199.48" font-size="7.2" fill="#3e3e3e">10<tspan font-size="4.2" dx="0.6" dy="-2.6">4</tspan></text>
<line x1="309.50" y1="75.90" x2="312.50" y2="75.90" stroke="#666" stroke-width="0.8"/>
<text x="298.86" y="78.68" font-size="7.2" fill="#3e3e3e">10<tspan font-size="4.2" dx="0.6" dy="-2.6">1</tspan></text>
<line x1="309.50" y1="56.80" x2="312.50" y2="56.80" stroke="#666" stroke-width="0.8"/>
<text x="298.86" y="59.58" font-size="7.2" fill="#3e3e3e">10<tspan font-size="4.2" dx="0.6" dy="-2.6">2</tspan></text>
<line x1="309.50" y1="37.70" x2="312.50" y2="37.70" stroke="#666" stroke-width="0.8"/>
<text x="298.86" y="40.48" font-size="7.2" fill="#3e3e3e">10<tspan font-size="4.2" dx="0.6" dy="-2.6">3</tspan></text>
<line x1="309.50" y1="18.60" x2="312.50" y2="18.60" stroke="#666" stroke-width="0.8"/>
<text x="298.86" y="21.38" font-size="7.2" fill="#3e3e3e">10<tspan font-size="4.2" dx="0.6" dy="-2.6">4</tspan></text>
<line x1="331.98" y1="95.00" x2="331.98" y2="97.80" stroke="#666" stroke-width="0.8"/>
<text x="329.74" y="106.48" font-size="7.2" fill="#3e3e3e">10<tspan font-size="4.2" dx="0.6" dy="-2.6">1</tspan></text>
<line x1="351.45" y1="95.00" x2="351.45" y2="97.80" stroke="#666" stroke-width="0.8"/>
<text x="349.21" y="106.48" font-size="7.2" fill="#3e3e3e">10<tspan font-size="4.2" dx="0.6" dy="-2.6">2</tspan></text>
<line x1="370.92" y1="95.00" x2="370.92" y2="97.80" stroke="#666" stroke-width="0.8"/>
<text x="368.68" y="106.48" font-size="7.2" fill="#3e3e3e">10<tspan font-size="4.2" dx="0.6" dy="-2.6">3</tspan></text>
<line x1="390.40" y1="95.00" x2="390.40" y2="97.80" stroke="#666" stroke-width="0.8"/>
<text x="388.16" y="106.48" font-size="7.2" fill="#3e3e3e">10<tspan font-size="4.2" dx="0.6" dy="-2.6">4</tspan></text>
<line x1="310.40" y1="168.00" x2="313.40" y2="168.00" stroke="#666" stroke-width="0.8"/>
<text x="299.76" y="170.78" font-size="7.2" fill="#3e3e3e">10<tspan font-size="4.2" dx="0.6" dy="-2.6">1</tspan></text>
<line x1="310.40" y1="148.80" x2="313.40" y2="148.80" stroke="#666" stroke-width="0.8"/>
<text x="299.76" y="151.58" font-size="7.2" fill="#3e3e3e">10<tspan font-size="4.2" dx="0.6" dy="-2.6">2</tspan></text>
<line x1="310.40" y1="129.60" x2="313.40" y2="129.60" stroke="#666" stroke-width="0.8"/>
<text x="299.76" y="132.38" font-size="7.2" fill="#3e3e3e">10<tspan font-size="4.2" dx="0.6" dy="-2.6">3</tspan></text>
<line x1="310.40" y1="110.40" x2="313.40" y2="110.40" stroke="#666" stroke-width="0.8"/>
<text x="299.76" y="113.18" font-size="7.2" fill="#3e3e3e">10<tspan font-size="4.2" dx="0.6" dy="-2.6">4</tspan></text>
<line x1="333.00" y1="187.20" x2="333.00" y2="190.00" stroke="#666" stroke-width="0.8"/>
<text x="330.76" y="198.68" font-size="7.2" fill="#3e3e3e">10<tspan font-size="4.2" dx="0.6" dy="-2.6">1</tspan></text>
<line x1="352.60" y1="187.20" x2="352.60" y2="190.00" stroke="#666" stroke-width="0.8"/>
<text x="350.36" y="198.68" font-size="7.2" fill="#3e3e3e">10<tspan font-size="4.2" dx="0.6" dy="-2.6">2</tspan></text>
<line x1="372.20" y1="187.20" x2="372.20" y2="190.00" stroke="#666" stroke-width="0.8"/>
<text x="369.96" y="198.68" font-size="7.2" fill="#3e3e3e">10<tspan font-size="4.2" dx="0.6" dy="-2.6">3</tspan></text>
<line x1="391.80" y1="187.20" x2="391.80" y2="190.00" stroke="#666" stroke-width="0.8"/>
<text x="389.56" y="198.68" font-size="7.2" fill="#3e3e3e">10<tspan font-size="4.2" dx="0.6" dy="-2.6">4</tspan></text>
<line x1="430.00" y1="76.12" x2="433.00" y2="76.12" stroke="#666" stroke-width="0.8"/>
<text x="419.36" y="78.91" font-size="7.2" fill="#3e3e3e">10<tspan font-size="4.2" dx="0.6" dy="-2.6">1</tspan></text>
<line x1="430.00" y1="56.95" x2="433.00" y2="56.95" stroke="#666" stroke-width="0.8"/>
<text x="419.36" y="59.73" font-size="7.2" fill="#3e3e3e">10<tspan font-size="4.2" dx="0.6" dy="-2.6">2</tspan></text>
<line x1="430.00" y1="37.78" x2="433.00" y2="37.78" stroke="#666" stroke-width="0.8"/>
<text x="419.36" y="40.56" font-size="7.2" fill="#3e3e3e">10<tspan font-size="4.2" dx="0.6" dy="-2.6">3</tspan></text>
<line x1="430.00" y1="18.60" x2="433.00" y2="18.60" stroke="#666" stroke-width="0.8"/>
<text x="419.36" y="21.38" font-size="7.2" fill="#3e3e3e">10<tspan font-size="4.2" dx="0.6" dy="-2.6">4</tspan></text>
<line x1="452.65" y1="95.30" x2="452.65" y2="98.10" stroke="#666" stroke-width="0.8"/>
<text x="450.41" y="106.78" font-size="7.2" fill="#3e3e3e">10<tspan font-size="4.2" dx="0.6" dy="-2.6">1</tspan></text>
<line x1="472.30" y1="95.30" x2="472.30" y2="98.10" stroke="#666" stroke-width="0.8"/>
<text x="470.06" y="106.78" font-size="7.2" fill="#3e3e3e">10<tspan font-size="4.2" dx="0.6" dy="-2.6">2</tspan></text>
<line x1="491.95" y1="95.30" x2="491.95" y2="98.10" stroke="#666" stroke-width="0.8"/>
<text x="489.71" y="106.78" font-size="7.2" fill="#3e3e3e">10<tspan font-size="4.2" dx="0.6" dy="-2.6">3</tspan></text>
<line x1="511.60" y1="95.30" x2="511.60" y2="98.10" stroke="#666" stroke-width="0.8"/>
<text x="509.36" y="106.78" font-size="7.2" fill="#3e3e3e">10<tspan font-size="4.2" dx="0.6" dy="-2.6">4</tspan></text>
<line x1="428.90" y1="168.32" x2="431.90" y2="168.32" stroke="#666" stroke-width="0.8"/>
<text x="418.26" y="171.11" font-size="7.2" fill="#3e3e3e">10<tspan font-size="4.2" dx="0.6" dy="-2.6">1</tspan></text>
<line x1="428.90" y1="148.95" x2="431.90" y2="148.95" stroke="#666" stroke-width="0.8"/>
<text x="418.26" y="151.73" font-size="7.2" fill="#3e3e3e">10<tspan font-size="4.2" dx="0.6" dy="-2.6">2</tspan></text>
<line x1="428.90" y1="129.57" x2="431.90" y2="129.57" stroke="#666" stroke-width="0.8"/>
<text x="418.26" y="132.36" font-size="7.2" fill="#3e3e3e">10<tspan font-size="4.2" dx="0.6" dy="-2.6">3</tspan></text>
<line x1="428.90" y1="110.20" x2="431.90" y2="110.20" stroke="#666" stroke-width="0.8"/>
<text x="418.26" y="112.98" font-size="7.2" fill="#3e3e3e">10<tspan font-size="4.2" dx="0.6" dy="-2.6">4</tspan></text>
<line x1="451.75" y1="187.70" x2="451.75" y2="190.50" stroke="#666" stroke-width="0.8"/>
<text x="449.51" y="199.18" font-size="7.2" fill="#3e3e3e">10<tspan font-size="4.2" dx="0.6" dy="-2.6">1</tspan></text>
<line x1="471.60" y1="187.70" x2="471.60" y2="190.50" stroke="#666" stroke-width="0.8"/>
<text x="469.36" y="199.18" font-size="7.2" fill="#3e3e3e">10<tspan font-size="4.2" dx="0.6" dy="-2.6">2</tspan></text>
<line x1="491.45" y1="187.70" x2="491.45" y2="190.50" stroke="#666" stroke-width="0.8"/>
<text x="489.21" y="199.18" font-size="7.2" fill="#3e3e3e">10<tspan font-size="4.2" dx="0.6" dy="-2.6">3</tspan></text>
<line x1="511.30" y1="187.70" x2="511.30" y2="190.50" stroke="#666" stroke-width="0.8"/>
<text x="509.06" y="199.18" font-size="7.2" fill="#3e3e3e">10<tspan font-size="4.2" dx="0.6" dy="-2.6">4</tspan></text>
<text x="-1.27" y="249.10" font-size="17.50" font-weight="bold" fill="#111" stroke="#111" stroke-width="0.35">B</text>
<line x1="37.00" y1="254.60" x2="37.00" y2="386.00" stroke="#555" stroke-width="1.1"/>
<line x1="37.00" y1="385.50" x2="110.00" y2="385.50" stroke="#444" stroke-width="1.2"/>
<text stroke="#333" stroke-width="0.22" x="19.24" y="257.48" font-size="9.80" fill="#333">0.2</text>
<text stroke="#333" stroke-width="0.22" x="16.47" y="283.54" font-size="9.80" fill="#333">0.16</text>
<text stroke="#333" stroke-width="0.22" x="16.52" y="309.60" font-size="9.80" fill="#333">0.12</text>
<text stroke="#333" stroke-width="0.22" x="16.47" y="335.66" font-size="9.80" fill="#333">0.08</text>
<text stroke="#333" stroke-width="0.22" x="16.42" y="361.72" font-size="9.80" fill="#333">0.04</text>
<text stroke="#333" stroke-width="0.22" x="23.26" y="387.78" font-size="9.80" fill="#333">0</text>
<rect x="45.50" y="319.30" width="12.70" height="66.20" fill="#252525"/>
<line x1="51.85" y1="277.50" x2="51.85" y2="319.30" stroke="#333" stroke-width="1.1"/>
<line x1="50.95" y1="277.50" x2="52.75" y2="277.50" stroke="#333" stroke-width="1.1"/>
<rect x="59.20" y="295.20" width="11.40" height="90.30" fill="#c6c9d2" stroke="#303030" stroke-width="1.2"/>
<line x1="64.90" y1="274.00" x2="64.90" y2="315.50" stroke="#333" stroke-width="1.1"/>
<line x1="64.00" y1="274.00" x2="65.80" y2="274.00" stroke="#333" stroke-width="1.1"/>
<rect x="79.50" y="333.80" width="11.30" height="51.70" fill="#252525"/>
<line x1="85.15" y1="320.20" x2="85.15" y2="333.80" stroke="#333" stroke-width="1.1"/>
<line x1="84.25" y1="320.20" x2="86.05" y2="320.20" stroke="#333" stroke-width="1.1"/>
<rect x="92.80" y="290.00" width="11.90" height="95.50" fill="#c6c9d2" stroke="#303030" stroke-width="1.2"/>
<line x1="98.75" y1="269.70" x2="98.75" y2="309.80" stroke="#333" stroke-width="1.1"/>
<line x1="97.85" y1="269.70" x2="99.65" y2="269.70" stroke="#333" stroke-width="1.1"/>
<line x1="79.20" y1="266.40" x2="105.30" y2="266.40" stroke="#222" stroke-width="1.3"/>
<text stroke="#222" stroke-width="0.22" x="88.65" y="266.89" font-size="9.50" fill="#222">*</text>
<line x1="44.00" y1="389.30" x2="71.60" y2="389.30" stroke="#444" stroke-width="1.3"/>
<line x1="78.80" y1="389.30" x2="106.60" y2="389.30" stroke="#444" stroke-width="1.3"/>
<text stroke="#333" stroke-width="0.22" x="50.57" y="398.20" font-size="9.28" textLength="15.62" lengthAdjust="spacingAndGlyphs" fill="#333">BM</text>
<text x="76.56" y="398.31" font-size="8.98" textLength="30.67" lengthAdjust="spacingAndGlyphs" fill="#333">Spleen</text>
<text stroke="#222" stroke-width="0.22" transform="translate(9.04,351.85) rotate(-90)" x="0" y="0" font-size="10.30" textLength="63.40" lengthAdjust="spacingAndGlyphs" fill="#222">LSK cells (%)</text>
<text x="130.12" y="249.10" font-size="17.50" font-weight="bold" fill="#111" stroke="#111" stroke-width="0.35">C</text>
<line x1="160.60" y1="255.50" x2="160.60" y2="386.20" stroke="#555" stroke-width="1.1"/>
<line x1="160.60" y1="385.70" x2="236.00" y2="385.70" stroke="#444" stroke-width="1.2"/>
<text stroke="#333" stroke-width="0.22" x="146.93" y="258.55" font-size="10.00" fill="#333">30</text>
<text stroke="#333" stroke-width="0.22" x="146.90" y="280.10" font-size="10.00" fill="#333">25</text>
<text stroke="#333" stroke-width="0.22" x="146.88" y="301.65" font-size="10.00" fill="#333">20</text>
<text stroke="#333" stroke-width="0.22" x="146.78" y="323.15" font-size="10.00" fill="#333">15</text>
<text stroke="#333" stroke-width="0.22" x="146.75" y="344.75" font-size="10.00" fill="#333">10</text>
<text stroke="#333" stroke-width="0.22" x="149.72" y="366.25" font-size="10.00" fill="#333">5</text>
<text stroke="#333" stroke-width="0.22" x="149.70" y="387.85" font-size="10.00" fill="#333">0</text>
<rect x="168.00" y="293.00" width="13.30" height="92.70" fill="#252525"/>
<line x1="174.65" y1="266.30" x2="174.65" y2="293.00" stroke="#333" stroke-width="1.1"/>
<line x1="173.75" y1="266.30" x2="175.55" y2="266.30" stroke="#333" stroke-width="1.1"/>
<rect x="183.10" y="337.60" width="11.30" height="48.10" fill="#c6c9d2" stroke="#303030" stroke-width="1.2"/>
<line x1="188.75" y1="322.00" x2="188.75" y2="352.50" stroke="#333" stroke-width="1.1"/>
<line x1="187.85" y1="322.00" x2="189.65" y2="322.00" stroke="#333" stroke-width="1.1"/>
<rect x="205.50" y="293.00" width="12.50" height="92.70" fill="#252525"/>
<line x1="211.75" y1="273.00" x2="211.75" y2="293.00" stroke="#333" stroke-width="1.1"/>
<line x1="210.85" y1="273.00" x2="212.65" y2="273.00" stroke="#333" stroke-width="1.1"/>
<rect x="220.60" y="337.60" width="11.00" height="48.10" fill="#c6c9d2" stroke="#303030" stroke-width="1.2"/>
<line x1="226.10" y1="308.80" x2="226.10" y2="365.50" stroke="#333" stroke-width="1.1"/>
<line x1="225.20" y1="308.80" x2="227.00" y2="308.80" stroke="#333" stroke-width="1.1"/>
<line x1="167.50" y1="263.00" x2="194.50" y2="263.00" stroke="#222" stroke-width="1.3"/>
<text stroke="#222" stroke-width="0.22" x="177.65" y="263.69" font-size="9.50" fill="#222">*</text>
<line x1="168.40" y1="389.20" x2="196.20" y2="389.20" stroke="#444" stroke-width="1.3"/>
<line x1="203.40" y1="389.20" x2="231.20" y2="389.20" stroke="#444" stroke-width="1.3"/>
<text x="175.17" y="398.20" font-size="8.84" textLength="15.62" lengthAdjust="spacingAndGlyphs" fill="#333">BM</text>
<text x="201.56" y="398.38" font-size="8.66" textLength="30.26" lengthAdjust="spacingAndGlyphs" fill="#333">Spleen</text>
<text stroke="#222" stroke-width="0.22" transform="translate(142.99,356.35) rotate(-90)" x="0" y="0" font-size="10.30" textLength="61.74" lengthAdjust="spacingAndGlyphs" fill="#222">LT-HSCs (%)</text>
<text x="260.33" y="249.10" font-size="17.50" font-weight="bold" fill="#111" stroke="#111" stroke-width="0.35">D</text>
<line x1="291.80" y1="256.30" x2="291.80" y2="386.20" stroke="#555" stroke-width="1.1"/>
<line x1="291.80" y1="385.70" x2="366.00" y2="385.70" stroke="#444" stroke-width="1.2"/>
<text stroke="#333" stroke-width="0.22" x="279.40" y="258.55" font-size="10.00" fill="#333">90</text>
<text stroke="#333" stroke-width="0.22" x="279.38" y="287.85" font-size="10.00" fill="#333">70</text>
<text stroke="#333" stroke-width="0.22" x="279.43" y="317.15" font-size="10.00" fill="#333">50</text>
<text stroke="#333" stroke-width="0.22" x="279.43" y="346.45" font-size="10.00" fill="#333">30</text>
<text stroke="#333" stroke-width="0.22" x="279.25" y="375.35" font-size="10.00" fill="#333">10</text>
<text stroke="#333" stroke-width="0.22" x="282.20" y="388.25" font-size="10.00" fill="#333">0</text>
<rect x="300.50" y="312.50" width="12.50" height="73.20" fill="#252525"/>
<line x1="306.75" y1="308.30" x2="306.75" y2="312.50" stroke="#333" stroke-width="1.1"/>
<line x1="305.85" y1="308.30" x2="307.65" y2="308.30" stroke="#333" stroke-width="1.1"/>
<rect x="315.60" y="328.10" width="11.30" height="57.60" fill="#c6c9d2" stroke="#303030" stroke-width="1.2"/>
<line x1="321.25" y1="320.80" x2="321.25" y2="335.00" stroke="#333" stroke-width="1.1"/>
<line x1="320.35" y1="320.80" x2="322.15" y2="320.80" stroke="#333" stroke-width="1.1"/>
<rect x="334.50" y="288.30" width="12.50" height="97.40" fill="#252525"/>
<line x1="340.75" y1="282.00" x2="340.75" y2="288.30" stroke="#333" stroke-width="1.1"/>
<line x1="339.85" y1="282.00" x2="341.65" y2="282.00" stroke="#333" stroke-width="1.1"/>
<rect x="350.10" y="285.10" width="11.30" height="100.60" fill="#c6c9d2" stroke="#303030" stroke-width="1.2"/>
<line x1="355.75" y1="276.30" x2="355.75" y2="292.50" stroke="#333" stroke-width="1.1"/>
<line x1="354.85" y1="276.30" x2="356.65" y2="276.30" stroke="#333" stroke-width="1.1"/>
<line x1="300.00" y1="303.80" x2="326.30" y2="303.80" stroke="#222" stroke-width="1.3"/>
<text stroke="#222" stroke-width="0.22" x="310.15" y="304.39" font-size="9.50" fill="#222">*</text>
<line x1="299.50" y1="389.20" x2="328.00" y2="389.20" stroke="#444" stroke-width="1.3"/>
<line x1="333.00" y1="389.20" x2="362.00" y2="389.20" stroke="#444" stroke-width="1.3"/>
<text x="305.97" y="398.20" font-size="8.84" textLength="15.62" lengthAdjust="spacingAndGlyphs" fill="#333">BM</text>
<text x="330.96" y="398.38" font-size="8.66" textLength="30.26" lengthAdjust="spacingAndGlyphs" fill="#333">Spleen</text>
<text stroke="#222" stroke-width="0.22" transform="translate(274.39,357.38) rotate(-90)" x="0" y="0" font-size="10.30" textLength="63.98" lengthAdjust="spacingAndGlyphs" fill="#222">ST-HSCs (%)</text>
<text x="389.47" y="249.10" font-size="17.50" font-weight="bold" fill="#111" stroke="#111" stroke-width="0.35">E</text>
<line x1="421.20" y1="255.80" x2="421.20" y2="386.20" stroke="#555" stroke-width="1.1"/>
<line x1="421.20" y1="385.70" x2="493.00" y2="385.70" stroke="#444" stroke-width="1.2"/>
<text stroke="#333" stroke-width="0.22" x="406.88" y="259.55" font-size="10.00" fill="#333">60</text>
<text stroke="#333" stroke-width="0.22" x="406.93" y="281.35" font-size="10.00" fill="#333">50</text>
<text stroke="#333" stroke-width="0.22" x="407.02" y="302.95" font-size="10.00" fill="#333">40</text>
<text stroke="#333" stroke-width="0.22" x="406.93" y="324.85" font-size="10.00" fill="#333">30</text>
<text stroke="#333" stroke-width="0.22" x="406.88" y="346.45" font-size="10.00" fill="#333">20</text>
<text stroke="#333" stroke-width="0.22" x="406.75" y="368.05" font-size="10.00" fill="#333">10</text>
<text stroke="#333" stroke-width="0.22" x="409.70" y="389.45" font-size="10.00" fill="#333">0</text>
<rect x="427.80" y="326.80" width="12.50" height="58.90" fill="#252525"/>
<line x1="434.05" y1="309.40" x2="434.05" y2="326.80" stroke="#333" stroke-width="1.1"/>
<line x1="433.15" y1="309.40" x2="434.95" y2="309.40" stroke="#333" stroke-width="1.1"/>
<rect x="443.20" y="285.80" width="11.30" height="99.90" fill="#c6c9d2" stroke="#303030" stroke-width="1.2"/>
<line x1="448.85" y1="272.20" x2="448.85" y2="298.20" stroke="#333" stroke-width="1.1"/>
<line x1="447.95" y1="272.20" x2="449.75" y2="272.20" stroke="#333" stroke-width="1.1"/>
<rect x="462.40" y="363.90" width="12.20" height="21.80" fill="#252525"/>
<line x1="468.50" y1="359.50" x2="468.50" y2="363.90" stroke="#333" stroke-width="1.1"/>
<line x1="467.60" y1="359.50" x2="469.40" y2="359.50" stroke="#333" stroke-width="1.1"/>
<rect x="477.20" y="347.60" width="11.80" height="38.10" fill="#c6c9d2" stroke="#303030" stroke-width="1.2"/>
<line x1="483.10" y1="338.40" x2="483.10" y2="356.10" stroke="#333" stroke-width="1.1"/>
<line x1="482.20" y1="338.40" x2="484.00" y2="338.40" stroke="#333" stroke-width="1.1"/>
<line x1="426.20" y1="268.30" x2="452.60" y2="268.30" stroke="#222" stroke-width="1.3"/>
<text stroke="#222" stroke-width="0.22" x="436.25" y="268.29" font-size="9.50" fill="#222">*</text>
<line x1="460.80" y1="333.60" x2="487.50" y2="333.60" stroke="#222" stroke-width="1.3"/>
<text stroke="#222" stroke-width="0.22" x="471.95" y="333.69" font-size="9.50" fill="#222">*</text>
<line x1="428.00" y1="389.70" x2="455.70" y2="389.70" stroke="#444" stroke-width="1.3"/>
<line x1="462.40" y1="389.70" x2="490.70" y2="389.70" stroke="#444" stroke-width="1.3"/>
<text x="435.00" y="398.60" font-size="8.99" textLength="15.06" lengthAdjust="spacingAndGlyphs" fill="#333">BM</text>
<text x="461.17" y="398.76" font-size="8.77" textLength="29.74" lengthAdjust="spacingAndGlyphs" fill="#333">Spleen</text>
<text stroke="#222" stroke-width="0.22" transform="translate(402.69,354.85) rotate(-90)" x="0" y="0" font-size="10.30" textLength="47.84" lengthAdjust="spacingAndGlyphs" fill="#222">MPPs (%)</text>
<rect x="496.10" y="302.90" width="7.80" height="9.10" fill="#252525"/>
<rect x="496.60" y="313.80" width="7.00" height="8.20" fill="#c6c9d2" stroke="#303030" stroke-width="1"/>
<text stroke="#222" stroke-width="0.22" x="504.52" y="309.62" font-size="9.20" fill="#222">stg</text>
<text stroke="#222" stroke-width="0.22" x="504.43" y="320.37" font-size="9.20" fill="#222">dtg</text>
<text x="25.35" y="432.60" font-size="17.50" font-weight="bold" fill="#111" stroke="#111" stroke-width="0.35">F</text>
<path d="M51.40,447.90 L51.40,423.80 L90.30,423.80 L90.30,445.10" fill="none" stroke="#1e1e1e" stroke-width="1.25"/>
<path d="M41.90,451.80 L41.90,447.90 L62.40,447.90 L62.40,450.60" fill="none" stroke="#1e1e1e" stroke-width="1.25"/>
<path d="M55.60,452.00 L55.60,450.60 L68.40,450.60 L68.40,452.20" fill="none" stroke="#1e1e1e" stroke-width="1.25"/>
<path d="M81.20,451.80 L81.20,445.10 L100.40,445.10 L100.40,448.20" fill="none" stroke="#1e1e1e" stroke-width="1.25"/>
<path d="M94.50,451.80 L94.50,448.20 L107.70,448.20 L107.70,451.80" fill="none" stroke="#1e1e1e" stroke-width="1.25"/>
<text x="39.01" y="460.60" font-size="7.60" fill="#333">dtg</text>
<text x="52.26" y="460.60" font-size="7.60" fill="#333">dtg</text>
<text x="64.41" y="460.60" font-size="7.60" fill="#333">dtg</text>
<text x="77.14" y="460.60" font-size="7.60" fill="#333">wt</text>
<text x="89.74" y="460.60" font-size="7.60" fill="#333">wt</text>
<text x="100.21" y="460.60" font-size="7.60" fill="#333">stg</text>
<g filter="url(#b19)" clip-path="url(#c7)"><rect x="38.40" y="464.20" width="12.43" height="1.65" fill="#f0979b"/><rect x="50.78" y="464.20" width="12.43" height="1.65" fill="#f4bdc0"/><rect x="63.17" y="464.20" width="12.43" height="1.65" fill="#f6c5c9"/><rect x="75.55" y="464.20" width="12.43" height="1.65" fill="#bbb8f3"/><rect x="87.93" y="464.20" width="12.43" height="1.65" fill="#ebe8f8"/><rect x="100.32" y="464.20" width="12.43" height="1.65" fill="#9e9cef"/><rect x="38.40" y="465.80" width="12.43" height="1.65" fill="#ee8c91"/><rect x="50.78" y="465.80" width="12.43" height="1.65" fill="#f3b2b6"/><rect x="63.17" y="465.80" width="12.43" height="1.65" fill="#f8d7da"/><rect x="75.55" y="465.80" width="12.43" height="1.65" fill="#c7c4f4"/><rect x="87.93" y="465.80" width="12.43" height="1.65" fill="#dddaf7"/><rect x="100.32" y="465.80" width="12.43" height="1.65" fill="#9897ef"/><rect x="38.40" y="467.40" width="12.43" height="1.65" fill="#f4b9bd"/><rect x="50.78" y="467.40" width="12.43" height="1.65" fill="#f0959a"/><rect x="63.17" y="467.40" width="12.43" height="1.65" fill="#f3aeb2"/><rect x="75.55" y="467.40" width="12.43" height="1.65" fill="#f2eef9"/><rect x="87.93" y="467.40" width="12.43" height="1.65" fill="#8180ec"/><rect x="100.32" y="467.40" width="12.43" height="1.65" fill="#a5a4f0"/><rect x="38.40" y="469.00" width="12.43" height="1.65" fill="#f9e0e2"/><rect x="50.78" y="469.00" width="12.43" height="1.65" fill="#f1a2a6"/><rect x="63.17" y="469.00" width="12.43" height="1.65" fill="#f09ba0"/><rect x="75.55" y="469.00" width="12.43" height="1.65" fill="#ebe7f8"/><rect x="87.93" y="469.00" width="12.43" height="1.65" fill="#8180ec"/><rect x="100.32" y="469.00" width="12.43" height="1.65" fill="#9e9cef"/><rect x="38.40" y="470.60" width="12.43" height="1.65" fill="#f9dde0"/><rect x="50.78" y="470.60" width="12.43" height="1.65" fill="#f09a9e"/><rect x="63.17" y="470.60" width="12.43" height="1.65" fill="#ef8e93"/><rect x="75.55" y="470.60" width="12.43" height="1.65" fill="#e6e2f7"/><rect x="87.93" y="470.60" width="12.43" height="1.65" fill="#9998ef"/><rect x="100.32" y="470.60" width="12.43" height="1.65" fill="#9695ee"/><rect x="38.40" y="472.20" width="12.43" height="1.65" fill="#fbeef0"/><rect x="50.78" y="472.20" width="12.43" height="1.65" fill="#f19fa3"/><rect x="63.17" y="472.20" width="12.43" height="1.65" fill="#f1a3a7"/><rect x="75.55" y="472.20" width="12.43" height="1.65" fill="#e5e2f7"/><rect x="87.93" y="472.20" width="12.43" height="1.65" fill="#9d9cef"/><rect x="100.32" y="472.20" width="12.43" height="1.65" fill="#9695ee"/><rect x="38.40" y="473.80" width="12.43" height="1.65" fill="#f5c4c7"/><rect x="50.78" y="473.80" width="12.43" height="1.65" fill="#f1a0a4"/><rect x="63.17" y="473.80" width="12.43" height="1.65" fill="#f0969a"/><rect x="75.55" y="473.80" width="12.43" height="1.65" fill="#f4f0f9"/><rect x="87.93" y="473.80" width="12.43" height="1.65" fill="#9a99ef"/><rect x="100.32" y="473.80" width="12.43" height="1.65" fill="#9291ee"/><rect x="38.40" y="475.40" width="12.43" height="1.65" fill="#eb7277"/><rect x="50.78" y="475.40" width="12.43" height="1.65" fill="#f8dcde"/><rect x="63.17" y="475.40" width="12.43" height="1.65" fill="#f3aeb2"/><rect x="75.55" y="475.40" width="12.43" height="1.65" fill="#f1edf9"/><rect x="87.93" y="475.40" width="12.43" height="1.65" fill="#8f8eee"/><rect x="100.32" y="475.40" width="12.43" height="1.65" fill="#a7a5f0"/><rect x="38.40" y="477.00" width="12.43" height="1.65" fill="#e96369"/><rect x="50.78" y="477.00" width="12.43" height="1.65" fill="#f9e3e6"/><rect x="63.17" y="477.00" width="12.43" height="1.65" fill="#f2a7ab"/><rect x="75.55" y="477.00" width="12.43" height="1.65" fill="#e9e5f8"/><rect x="87.93" y="477.00" width="12.43" height="1.65" fill="#8483ec"/><rect x="100.32" y="477.00" width="12.43" height="1.65" fill="#adabf1"/><rect x="38.40" y="478.60" width="12.43" height="1.65" fill="#e9646a"/><rect x="50.78" y="478.60" width="12.43" height="1.65" fill="#f9e3e6"/><rect x="63.17" y="478.60" width="12.43" height="1.65" fill="#f19da2"/><rect x="75.55" y="478.60" width="12.43" height="1.65" fill="#dddaf6"/><rect x="87.93" y="478.60" width="12.43" height="1.65" fill="#8685ed"/><rect x="100.32" y="478.60" width="12.43" height="1.65" fill="#b3b0f2"/><rect x="38.40" y="480.20" width="12.43" height="1.65" fill="#ea676d"/><rect x="50.78" y="480.20" width="12.43" height="1.65" fill="#f9dde0"/><rect x="63.17" y="480.20" width="12.43" height="1.65" fill="#ef9397"/><rect x="75.55" y="480.20" width="12.43" height="1.65" fill="#e1ddf7"/><rect x="87.93" y="480.20" width="12.43" height="1.65" fill="#8382ec"/><rect x="100.32" y="480.20" width="12.43" height="1.65" fill="#a8a6f0"/><rect x="38.40" y="481.80" width="12.43" height="1.65" fill="#ec777c"/><rect x="50.78" y="481.80" width="12.43" height="1.65" fill="#f6cccf"/><rect x="63.17" y="481.80" width="12.43" height="1.65" fill="#f2adb1"/><rect x="75.55" y="481.80" width="12.43" height="1.65" fill="#d6d3f6"/><rect x="87.93" y="481.80" width="12.43" height="1.65" fill="#9a99ef"/><rect x="100.32" y="481.80" width="12.43" height="1.65" fill="#b3b1f2"/><rect x="38.40" y="483.40" width="12.43" height="1.65" fill="#ec787d"/><rect x="50.78" y="483.40" width="12.43" height="1.65" fill="#f5bdc1"/><rect x="63.17" y="483.40" width="12.43" height="1.65" fill="#f2aaae"/><rect x="75.55" y="483.40" width="12.43" height="1.65" fill="#c7c4f4"/><rect x="87.93" y="483.40" width="12.43" height="1.65" fill="#908eee"/><rect x="100.32" y="483.40" width="12.43" height="1.65" fill="#a9a7f1"/><rect x="38.40" y="485.00" width="12.43" height="1.65" fill="#ec7d82"/><rect x="50.78" y="485.00" width="12.43" height="1.65" fill="#f4bcc0"/><rect x="63.17" y="485.00" width="12.43" height="1.65" fill="#f19fa4"/><rect x="75.55" y="485.00" width="12.43" height="1.65" fill="#cdcaf5"/><rect x="87.93" y="485.00" width="12.43" height="1.65" fill="#9a98ef"/><rect x="100.32" y="485.00" width="12.43" height="1.65" fill="#9593ee"/><rect x="38.40" y="486.60" width="12.43" height="1.65" fill="#ed7f84"/><rect x="50.78" y="486.60" width="12.43" height="1.65" fill="#f4babd"/><rect x="63.17" y="486.60" width="12.43" height="1.65" fill="#f1a3a7"/><rect x="75.55" y="486.60" width="12.43" height="1.65" fill="#d9d6f6"/><rect x="87.93" y="486.60" width="12.43" height="1.65" fill="#7d7cec"/><rect x="100.32" y="486.60" width="12.43" height="1.65" fill="#8b8aed"/><rect x="38.40" y="488.20" width="12.43" height="1.65" fill="#ed8186"/><rect x="50.78" y="488.20" width="12.43" height="1.65" fill="#f4babe"/><rect x="63.17" y="488.20" width="12.43" height="1.65" fill="#f3aeb1"/><rect x="75.55" y="488.20" width="12.43" height="1.65" fill="#dedbf7"/><rect x="87.93" y="488.20" width="12.43" height="1.65" fill="#8887ed"/><rect x="100.32" y="488.20" width="12.43" height="1.65" fill="#9493ee"/><rect x="38.40" y="489.80" width="12.43" height="1.65" fill="#ec787d"/><rect x="50.78" y="489.80" width="12.43" height="1.65" fill="#f4bbbf"/><rect x="63.17" y="489.80" width="12.43" height="1.65" fill="#f3b5b8"/><rect x="75.55" y="489.80" width="12.43" height="1.65" fill="#c8c5f4"/><rect x="87.93" y="489.80" width="12.43" height="1.65" fill="#9694ee"/><rect x="100.32" y="489.80" width="12.43" height="1.65" fill="#9594ee"/><rect x="38.40" y="491.40" width="12.43" height="1.65" fill="#ed8388"/><rect x="50.78" y="491.40" width="12.43" height="1.65" fill="#f9dfe1"/><rect x="63.17" y="491.40" width="12.43" height="1.65" fill="#f0969a"/><rect x="75.55" y="491.40" width="12.43" height="1.65" fill="#b4b2f2"/><rect x="87.93" y="491.40" width="12.43" height="1.65" fill="#c2c0f3"/><rect x="100.32" y="491.40" width="12.43" height="1.65" fill="#8988ed"/><rect x="38.40" y="493.00" width="12.43" height="1.65" fill="#ec7a80"/><rect x="50.78" y="493.00" width="12.43" height="1.65" fill="#fbeef0"/><rect x="63.17" y="493.00" width="12.43" height="1.65" fill="#ef9195"/><rect x="75.55" y="493.00" width="12.43" height="1.65" fill="#aaa8f1"/><rect x="87.93" y="493.00" width="12.43" height="1.65" fill="#c5c2f4"/><rect x="100.32" y="493.00" width="12.43" height="1.65" fill="#aba9f1"/><rect x="38.40" y="494.60" width="12.43" height="1.65" fill="#ed7e83"/><rect x="50.78" y="494.60" width="12.43" height="1.65" fill="#f7d2d5"/><rect x="63.17" y="494.60" width="12.43" height="1.65" fill="#ed8388"/><rect x="75.55" y="494.60" width="12.43" height="1.65" fill="#b5b3f2"/><rect x="87.93" y="494.60" width="12.43" height="1.65" fill="#c9c7f4"/><rect x="100.32" y="494.60" width="12.43" height="1.65" fill="#a3a2f0"/><rect x="38.40" y="496.20" width="12.43" height="1.65" fill="#ea6d73"/><rect x="50.78" y="496.20" width="12.43" height="1.65" fill="#f7d4d7"/><rect x="63.17" y="496.20" width="12.43" height="1.65" fill="#ed8489"/><rect x="75.55" y="496.20" width="12.43" height="1.65" fill="#a19ff0"/><rect x="87.93" y="496.20" width="12.43" height="1.65" fill="#c8c6f4"/><rect x="100.32" y="496.20" width="12.43" height="1.65" fill="#8c8bed"/><rect x="38.40" y="497.80" width="12.43" height="1.65" fill="#ee868b"/><rect x="50.78" y="497.80" width="12.43" height="1.65" fill="#f9e1e4"/><rect x="63.17" y="497.80" width="12.43" height="1.65" fill="#ed7e83"/><rect x="75.55" y="497.80" width="12.43" height="1.65" fill="#9695ee"/><rect x="87.93" y="497.80" width="12.43" height="1.65" fill="#c0bdf3"/><rect x="100.32" y="497.80" width="12.43" height="1.65" fill="#908eee"/><rect x="38.40" y="499.40" width="12.43" height="1.65" fill="#f1a2a6"/><rect x="50.78" y="499.40" width="12.43" height="1.65" fill="#faecee"/><rect x="63.17" y="499.40" width="12.43" height="1.65" fill="#ee898e"/><rect x="75.55" y="499.40" width="12.43" height="1.65" fill="#a5a3f0"/><rect x="87.93" y="499.40" width="12.43" height="1.65" fill="#bbb9f3"/><rect x="100.32" y="499.40" width="12.43" height="1.65" fill="#9997ef"/><rect x="38.40" y="501.00" width="12.43" height="1.65" fill="#ef8e93"/><rect x="50.78" y="501.00" width="12.43" height="1.65" fill="#faeaec"/><rect x="63.17" y="501.00" width="12.43" height="1.65" fill="#f09da1"/><rect x="75.55" y="501.00" width="12.43" height="1.65" fill="#bfbcf3"/><rect x="87.93" y="501.00" width="12.43" height="1.65" fill="#8b8aed"/><rect x="100.32" y="501.00" width="12.43" height="1.65" fill="#d0cdf5"/><rect x="38.40" y="502.60" width="12.43" height="1.65" fill="#ef9599"/><rect x="50.78" y="502.60" width="12.43" height="1.65" fill="#faecee"/><rect x="63.17" y="502.60" width="12.43" height="1.65" fill="#f2abae"/><rect x="75.55" y="502.60" width="12.43" height="1.65" fill="#afadf1"/><rect x="87.93" y="502.60" width="12.43" height="1.65" fill="#7f7eec"/><rect x="100.32" y="502.60" width="12.43" height="1.65" fill="#d7d4f6"/><rect x="38.40" y="504.20" width="12.43" height="1.65" fill="#f0999d"/><rect x="50.78" y="504.20" width="12.43" height="1.65" fill="#fcf8fa"/><rect x="63.17" y="504.20" width="12.43" height="1.65" fill="#f1a2a6"/><rect x="75.55" y="504.20" width="12.43" height="1.65" fill="#b6b3f2"/><rect x="87.93" y="504.20" width="12.43" height="1.65" fill="#706fea"/><rect x="100.32" y="504.20" width="12.43" height="1.65" fill="#d6d3f6"/><rect x="38.40" y="505.80" width="12.43" height="1.65" fill="#f19ea3"/><rect x="50.78" y="505.80" width="12.43" height="1.65" fill="#fcf8fa"/><rect x="63.17" y="505.80" width="12.43" height="1.65" fill="#ef8f93"/><rect x="75.55" y="505.80" width="12.43" height="1.65" fill="#bab7f2"/><rect x="87.93" y="505.80" width="12.43" height="1.65" fill="#918fee"/><rect x="100.32" y="505.80" width="12.43" height="1.65" fill="#d7d4f6"/><rect x="38.40" y="507.40" width="12.43" height="1.65" fill="#f1a3a7"/><rect x="50.78" y="507.40" width="12.43" height="1.65" fill="#f7d0d3"/><rect x="63.17" y="507.40" width="12.43" height="1.65" fill="#f0969b"/><rect x="75.55" y="507.40" width="12.43" height="1.65" fill="#8080ec"/><rect x="87.93" y="507.40" width="12.43" height="1.65" fill="#b4b2f2"/><rect x="100.32" y="507.40" width="12.43" height="1.65" fill="#f1edf9"/><rect x="38.40" y="509.00" width="12.43" height="1.65" fill="#f09a9f"/><rect x="50.78" y="509.00" width="12.43" height="1.65" fill="#fae8ea"/><rect x="63.17" y="509.00" width="12.43" height="1.65" fill="#f0979c"/><rect x="75.55" y="509.00" width="12.43" height="1.65" fill="#9d9cef"/><rect x="87.93" y="509.00" width="12.43" height="1.65" fill="#bebcf3"/><rect x="100.32" y="509.00" width="12.43" height="1.65" fill="#dbd8f6"/><rect x="38.40" y="510.60" width="12.43" height="1.65" fill="#ed8186"/><rect x="50.78" y="510.60" width="12.43" height="1.65" fill="#fbf2f4"/><rect x="63.17" y="510.60" width="12.43" height="1.65" fill="#f3afb3"/><rect x="75.55" y="510.60" width="12.43" height="1.65" fill="#8d8ced"/><rect x="87.93" y="510.60" width="12.43" height="1.65" fill="#b1aff1"/><rect x="100.32" y="510.60" width="12.43" height="1.65" fill="#e7e3f8"/><rect x="38.40" y="512.20" width="12.43" height="1.65" fill="#ee8c91"/><rect x="50.78" y="512.20" width="12.43" height="1.65" fill="#fbf2f5"/><rect x="63.17" y="512.20" width="12.43" height="1.65" fill="#f4babe"/><rect x="75.55" y="512.20" width="12.43" height="1.65" fill="#9593ee"/><rect x="87.93" y="512.20" width="12.43" height="1.65" fill="#a5a3f0"/><rect x="100.32" y="512.20" width="12.43" height="1.65" fill="#dbd8f6"/><rect x="38.40" y="513.80" width="12.43" height="1.65" fill="#eb747a"/><rect x="50.78" y="513.80" width="12.43" height="1.65" fill="#faecee"/><rect x="63.17" y="513.80" width="12.43" height="1.65" fill="#f3b5b8"/><rect x="75.55" y="513.80" width="12.43" height="1.65" fill="#9d9bef"/><rect x="87.93" y="513.80" width="12.43" height="1.65" fill="#adabf1"/><rect x="100.32" y="513.80" width="12.43" height="1.65" fill="#eae6f8"/><rect x="38.40" y="515.40" width="12.43" height="1.65" fill="#fae7ea"/><rect x="50.78" y="515.40" width="12.43" height="1.65" fill="#f2a8ac"/><rect x="63.17" y="515.40" width="12.43" height="1.65" fill="#f2a8ac"/><rect x="75.55" y="515.40" width="12.43" height="1.65" fill="#8584ec"/><rect x="87.93" y="515.40" width="12.43" height="1.65" fill="#8988ed"/><rect x="100.32" y="515.40" width="12.43" height="1.65" fill="#f2eef9"/><rect x="38.40" y="517.00" width="12.43" height="1.65" fill="#fbecef"/><rect x="50.78" y="517.00" width="12.43" height="1.65" fill="#f2a8ac"/><rect x="63.17" y="517.00" width="12.43" height="1.65" fill="#f3b0b4"/><rect x="75.55" y="517.00" width="12.43" height="1.65" fill="#9290ee"/><rect x="87.93" y="517.00" width="12.43" height="1.65" fill="#a4a2f0"/><rect x="100.32" y="517.00" width="12.43" height="1.65" fill="#fcf8fa"/><rect x="38.40" y="518.60" width="12.43" height="1.65" fill="#fae8ea"/><rect x="50.78" y="518.60" width="12.43" height="1.65" fill="#f2a7ab"/><rect x="63.17" y="518.60" width="12.43" height="1.65" fill="#f4b5b9"/><rect x="75.55" y="518.60" width="12.43" height="1.65" fill="#7d7cec"/><rect x="87.93" y="518.60" width="12.43" height="1.65" fill="#9f9eef"/><rect x="100.32" y="518.60" width="12.43" height="1.65" fill="#f2eef9"/><rect x="38.40" y="520.20" width="12.43" height="1.65" fill="#f8d7da"/><rect x="50.78" y="520.20" width="12.43" height="1.65" fill="#f6c8cc"/><rect x="63.17" y="520.20" width="12.43" height="1.65" fill="#f1a2a6"/><rect x="75.55" y="520.20" width="12.43" height="1.65" fill="#b7b5f2"/><rect x="87.93" y="520.20" width="12.43" height="1.65" fill="#9e9def"/><rect x="100.32" y="520.20" width="12.43" height="1.65" fill="#b9b7f2"/><rect x="38.40" y="521.80" width="12.43" height="1.65" fill="#f8d7da"/><rect x="50.78" y="521.80" width="12.43" height="1.65" fill="#f4babe"/><rect x="63.17" y="521.80" width="12.43" height="1.65" fill="#ef9094"/><rect x="75.55" y="521.80" width="12.43" height="1.65" fill="#d4d1f5"/><rect x="87.93" y="521.80" width="12.43" height="1.65" fill="#9391ee"/><rect x="100.32" y="521.80" width="12.43" height="1.65" fill="#c5c3f4"/><rect x="38.40" y="523.40" width="12.43" height="1.65" fill="#f9e3e6"/><rect x="50.78" y="523.40" width="12.43" height="1.65" fill="#f5c2c5"/><rect x="63.17" y="523.40" width="12.43" height="1.65" fill="#ed858a"/><rect x="75.55" y="523.40" width="12.43" height="1.65" fill="#c4c1f4"/><rect x="87.93" y="523.40" width="12.43" height="1.65" fill="#8987ed"/><rect x="100.32" y="523.40" width="12.43" height="1.65" fill="#d7d4f6"/><rect x="38.40" y="525.00" width="12.43" height="1.65" fill="#fae9eb"/><rect x="50.78" y="525.00" width="12.43" height="1.65" fill="#f8dbde"/><rect x="63.17" y="525.00" width="12.43" height="1.65" fill="#ee888d"/><rect x="75.55" y="525.00" width="12.43" height="1.65" fill="#bebbf3"/><rect x="87.93" y="525.00" width="12.43" height="1.65" fill="#9695ee"/><rect x="100.32" y="525.00" width="12.43" height="1.65" fill="#cdcaf5"/><rect x="38.40" y="526.60" width="12.43" height="1.65" fill="#f9e3e5"/><rect x="50.78" y="526.60" width="12.43" height="1.65" fill="#f6c6c9"/><rect x="63.17" y="526.60" width="12.43" height="1.65" fill="#ef9196"/><rect x="75.55" y="526.60" width="12.43" height="1.65" fill="#cac7f4"/><rect x="87.93" y="526.60" width="12.43" height="1.65" fill="#9e9def"/><rect x="100.32" y="526.60" width="12.43" height="1.65" fill="#b6b4f2"/><rect x="38.40" y="528.20" width="12.43" height="1.65" fill="#f4b6ba"/><rect x="50.78" y="528.20" width="12.43" height="1.65" fill="#f7cdd0"/><rect x="63.17" y="528.20" width="12.43" height="1.65" fill="#f09ca0"/><rect x="75.55" y="528.20" width="12.43" height="1.65" fill="#afadf1"/><rect x="87.93" y="528.20" width="12.43" height="1.65" fill="#a8a6f0"/><rect x="100.32" y="528.20" width="12.43" height="1.65" fill="#d6d3f6"/><rect x="38.40" y="529.80" width="12.43" height="1.65" fill="#f5bec1"/><rect x="50.78" y="529.80" width="12.43" height="1.65" fill="#f8d9dc"/><rect x="63.17" y="529.80" width="12.43" height="1.65" fill="#f1a2a6"/><rect x="75.55" y="529.80" width="12.43" height="1.65" fill="#9c9aef"/><rect x="87.93" y="529.80" width="12.43" height="1.65" fill="#a19ff0"/><rect x="100.32" y="529.80" width="12.43" height="1.65" fill="#d8d5f6"/><rect x="38.40" y="531.40" width="12.43" height="1.65" fill="#f5c1c5"/><rect x="50.78" y="531.40" width="12.43" height="1.65" fill="#f7d2d5"/><rect x="63.17" y="531.40" width="12.43" height="1.65" fill="#f09a9f"/><rect x="75.55" y="531.40" width="12.43" height="1.65" fill="#aaa8f1"/><rect x="87.93" y="531.40" width="12.43" height="1.65" fill="#a09ff0"/><rect x="100.32" y="531.40" width="12.43" height="1.65" fill="#d7d4f6"/><rect x="38.40" y="533.00" width="12.43" height="1.65" fill="#f6c9cd"/><rect x="50.78" y="533.00" width="12.43" height="1.65" fill="#f8d7da"/><rect x="63.17" y="533.00" width="12.43" height="1.65" fill="#f1a5a9"/><rect x="75.55" y="533.00" width="12.43" height="1.65" fill="#b7b5f2"/><rect x="87.93" y="533.00" width="12.43" height="1.65" fill="#9897ef"/><rect x="100.32" y="533.00" width="12.43" height="1.65" fill="#f3f0f9"/><rect x="38.40" y="534.60" width="12.43" height="1.65" fill="#f7d1d4"/><rect x="50.78" y="534.60" width="12.43" height="1.65" fill="#fae8ea"/><rect x="63.17" y="534.60" width="12.43" height="1.65" fill="#f3afb3"/><rect x="75.55" y="534.60" width="12.43" height="1.65" fill="#a2a0f0"/><rect x="87.93" y="534.60" width="12.43" height="1.65" fill="#a19ff0"/><rect x="100.32" y="534.60" width="12.43" height="1.65" fill="#f9f5fa"/><rect x="38.40" y="536.20" width="12.43" height="1.65" fill="#f7cfd2"/><rect x="50.78" y="536.20" width="12.43" height="1.65" fill="#fae8eb"/><rect x="63.17" y="536.20" width="12.43" height="1.65" fill="#f2abaf"/><rect x="75.55" y="536.20" width="12.43" height="1.65" fill="#9695ee"/><rect x="87.93" y="536.20" width="12.43" height="1.65" fill="#adabf1"/><rect x="100.32" y="536.20" width="12.43" height="1.65" fill="#fcf8fa"/><rect x="38.40" y="537.80" width="12.43" height="1.65" fill="#f8dadd"/><rect x="50.78" y="537.80" width="12.43" height="1.65" fill="#fbeef0"/><rect x="63.17" y="537.80" width="12.43" height="1.65" fill="#f4b6ba"/><rect x="75.55" y="537.80" width="12.43" height="1.65" fill="#8d8ced"/><rect x="87.93" y="537.80" width="12.43" height="1.65" fill="#acaaf1"/><rect x="100.32" y="537.80" width="12.43" height="1.65" fill="#fbf7fa"/><rect x="38.40" y="539.40" width="12.43" height="1.65" fill="#f7d3d6"/><rect x="50.78" y="539.40" width="12.43" height="1.65" fill="#f3aeb1"/><rect x="63.17" y="539.40" width="12.43" height="1.65" fill="#f7cdd0"/><rect x="75.55" y="539.40" width="12.43" height="1.65" fill="#bab8f2"/><rect x="87.93" y="539.40" width="12.43" height="1.65" fill="#9190ee"/><rect x="100.32" y="539.40" width="12.43" height="1.65" fill="#f7f3f9"/><rect x="38.40" y="541.00" width="12.43" height="1.65" fill="#f9dfe2"/><rect x="50.78" y="541.00" width="12.43" height="1.65" fill="#f09ba0"/><rect x="63.17" y="541.00" width="12.43" height="1.65" fill="#f5bdc0"/><rect x="75.55" y="541.00" width="12.43" height="1.65" fill="#cfccf5"/><rect x="87.93" y="541.00" width="12.43" height="1.65" fill="#8180ec"/><rect x="100.32" y="541.00" width="12.43" height="1.65" fill="#f0edf9"/><rect x="38.40" y="542.60" width="12.43" height="1.65" fill="#f9e1e4"/><rect x="50.78" y="542.60" width="12.43" height="1.65" fill="#f1a1a5"/><rect x="63.17" y="542.60" width="12.43" height="1.65" fill="#f6c5c8"/><rect x="75.55" y="542.60" width="12.43" height="1.65" fill="#e2dff7"/><rect x="87.93" y="542.60" width="12.43" height="1.65" fill="#8e8ded"/><rect x="100.32" y="542.60" width="12.43" height="1.65" fill="#f6f2f9"/><rect x="38.40" y="544.20" width="12.43" height="1.65" fill="#f6c8cc"/><rect x="50.78" y="544.20" width="12.43" height="1.65" fill="#eb6f74"/><rect x="63.17" y="544.20" width="12.43" height="1.65" fill="#f4b8bc"/><rect x="75.55" y="544.20" width="12.43" height="1.65" fill="#e5e2f7"/><rect x="87.93" y="544.20" width="12.43" height="1.65" fill="#b5b3f2"/><rect x="100.32" y="544.20" width="12.43" height="1.65" fill="#b9b7f2"/><rect x="38.40" y="545.80" width="12.43" height="1.65" fill="#f7d3d6"/><rect x="50.78" y="545.80" width="12.43" height="1.65" fill="#e96066"/><rect x="63.17" y="545.80" width="12.43" height="1.65" fill="#f5bfc2"/><rect x="75.55" y="545.80" width="12.43" height="1.65" fill="#e7e3f8"/><rect x="87.93" y="545.80" width="12.43" height="1.65" fill="#a1a0f0"/><rect x="100.32" y="545.80" width="12.43" height="1.65" fill="#aba9f1"/><rect x="38.40" y="547.40" width="12.43" height="1.65" fill="#f9e1e3"/><rect x="50.78" y="547.40" width="12.43" height="1.65" fill="#eb7379"/><rect x="63.17" y="547.40" width="12.43" height="1.65" fill="#f6cccf"/><rect x="75.55" y="547.40" width="12.43" height="1.65" fill="#dfdcf7"/><rect x="87.93" y="547.40" width="12.43" height="1.65" fill="#9e9def"/><rect x="100.32" y="547.40" width="12.43" height="1.65" fill="#acaaf1"/><rect x="38.40" y="549.00" width="12.43" height="1.65" fill="#f8d5d8"/><rect x="50.78" y="549.00" width="12.43" height="1.65" fill="#ed8085"/><rect x="63.17" y="549.00" width="12.43" height="1.65" fill="#f8dbdd"/><rect x="75.55" y="549.00" width="12.43" height="1.65" fill="#cac7f4"/><rect x="87.93" y="549.00" width="12.43" height="1.65" fill="#9a98ef"/><rect x="100.32" y="549.00" width="12.43" height="1.65" fill="#a5a3f0"/><rect x="38.40" y="550.60" width="12.43" height="1.65" fill="#f9e2e4"/><rect x="50.78" y="550.60" width="12.43" height="1.65" fill="#ed8287"/><rect x="63.17" y="550.60" width="12.43" height="1.65" fill="#f7d1d4"/><rect x="75.55" y="550.60" width="12.43" height="1.65" fill="#ddd9f6"/><rect x="87.93" y="550.60" width="12.43" height="1.65" fill="#8f8eee"/><rect x="100.32" y="550.60" width="12.43" height="1.65" fill="#a9a7f1"/><rect x="38.40" y="552.20" width="12.43" height="1.65" fill="#f7d3d6"/><rect x="50.78" y="552.20" width="12.43" height="1.65" fill="#ed8388"/><rect x="63.17" y="552.20" width="12.43" height="1.65" fill="#f7d1d4"/><rect x="75.55" y="552.20" width="12.43" height="1.65" fill="#ccc9f5"/><rect x="87.93" y="552.20" width="12.43" height="1.65" fill="#9998ef"/><rect x="100.32" y="552.20" width="12.43" height="1.65" fill="#9695ee"/><rect x="38.40" y="553.80" width="12.43" height="1.65" fill="#f4b8bc"/><rect x="50.78" y="553.80" width="12.43" height="1.65" fill="#f2adb0"/><rect x="63.17" y="553.80" width="12.43" height="1.65" fill="#ef959a"/><rect x="75.55" y="553.80" width="12.43" height="1.65" fill="#acaaf1"/><rect x="87.93" y="553.80" width="12.43" height="1.65" fill="#afadf1"/><rect x="100.32" y="553.80" width="12.43" height="1.65" fill="#9291ee"/><rect x="38.40" y="555.40" width="12.43" height="1.65" fill="#f1a5a9"/><rect x="50.78" y="555.40" width="12.43" height="1.65" fill="#f4bcbf"/><rect x="63.17" y="555.40" width="12.43" height="1.65" fill="#ef9499"/><rect x="75.55" y="555.40" width="12.43" height="1.65" fill="#9493ee"/><rect x="87.93" y="555.40" width="12.43" height="1.65" fill="#a19ff0"/><rect x="100.32" y="555.40" width="12.43" height="1.65" fill="#9c9bef"/><rect x="38.40" y="557.00" width="12.43" height="1.65" fill="#f3adb1"/><rect x="50.78" y="557.00" width="12.43" height="1.65" fill="#f3b4b8"/><rect x="63.17" y="557.00" width="12.43" height="1.65" fill="#f2a6aa"/><rect x="75.55" y="557.00" width="12.43" height="1.65" fill="#9e9cef"/><rect x="87.93" y="557.00" width="12.43" height="1.65" fill="#a8a6f0"/><rect x="100.32" y="557.00" width="12.43" height="1.65" fill="#a1a0f0"/><rect x="38.40" y="558.60" width="12.43" height="1.65" fill="#f19ea3"/><rect x="50.78" y="558.60" width="12.43" height="1.65" fill="#f3afb3"/><rect x="63.17" y="558.60" width="12.43" height="1.65" fill="#f3b4b8"/><rect x="75.55" y="558.60" width="12.43" height="1.65" fill="#9594ee"/><rect x="87.93" y="558.60" width="12.43" height="1.65" fill="#b6b3f2"/><rect x="100.32" y="558.60" width="12.43" height="1.65" fill="#a8a6f0"/><rect x="38.40" y="560.20" width="12.43" height="1.65" fill="#f1a4a8"/><rect x="50.78" y="560.20" width="12.43" height="1.65" fill="#f3adb1"/><rect x="63.17" y="560.20" width="12.43" height="1.65" fill="#f4b8bb"/><rect x="75.55" y="560.20" width="12.43" height="1.65" fill="#9e9def"/><rect x="87.93" y="560.20" width="12.43" height="1.65" fill="#9a99ef"/><rect x="100.32" y="560.20" width="12.43" height="1.65" fill="#adabf1"/><rect x="38.40" y="561.80" width="12.43" height="1.65" fill="#f5bfc3"/><rect x="50.78" y="561.80" width="12.43" height="1.65" fill="#ee8c91"/><rect x="63.17" y="561.80" width="12.43" height="1.65" fill="#f4b6ba"/><rect x="75.55" y="561.80" width="12.43" height="1.65" fill="#918fee"/><rect x="87.93" y="561.80" width="12.43" height="1.65" fill="#b0aef1"/><rect x="100.32" y="561.80" width="12.43" height="1.65" fill="#c0bdf3"/><rect x="38.40" y="563.40" width="12.43" height="1.65" fill="#f6c9cd"/><rect x="50.78" y="563.40" width="12.43" height="1.65" fill="#ee8d92"/><rect x="63.17" y="563.40" width="12.43" height="1.65" fill="#f3afb2"/><rect x="75.55" y="563.40" width="12.43" height="1.65" fill="#8786ed"/><rect x="87.93" y="563.40" width="12.43" height="1.65" fill="#b3b1f2"/><rect x="100.32" y="563.40" width="12.43" height="1.65" fill="#b8b6f2"/><rect x="38.40" y="565.00" width="12.43" height="1.65" fill="#f6c5c9"/><rect x="50.78" y="565.00" width="12.43" height="1.65" fill="#ef9196"/><rect x="63.17" y="565.00" width="12.43" height="1.65" fill="#f2adb1"/><rect x="75.55" y="565.00" width="12.43" height="1.65" fill="#8988ed"/><rect x="87.93" y="565.00" width="12.43" height="1.65" fill="#bebbf3"/><rect x="100.32" y="565.00" width="12.43" height="1.65" fill="#b9b7f2"/><rect x="38.40" y="566.60" width="12.43" height="1.65" fill="#f7cdd0"/><rect x="50.78" y="566.60" width="12.43" height="1.65" fill="#ed858a"/><rect x="63.17" y="566.60" width="12.43" height="1.65" fill="#f1a0a4"/><rect x="75.55" y="566.60" width="12.43" height="1.65" fill="#8685ed"/><rect x="87.93" y="566.60" width="12.43" height="1.65" fill="#b7b5f2"/><rect x="100.32" y="566.60" width="12.43" height="1.65" fill="#a8a6f0"/><rect x="38.40" y="568.20" width="12.43" height="1.65" fill="#f6c8cb"/><rect x="50.78" y="568.20" width="12.43" height="1.65" fill="#ed8388"/><rect x="63.17" y="568.20" width="12.43" height="1.65" fill="#f3b3b6"/><rect x="75.55" y="568.20" width="12.43" height="1.65" fill="#9190ee"/><rect x="87.93" y="568.20" width="12.43" height="1.65" fill="#c5c2f4"/><rect x="100.32" y="568.20" width="12.43" height="1.65" fill="#9f9def"/><rect x="38.40" y="569.80" width="12.43" height="1.65" fill="#f6cccf"/><rect x="50.78" y="569.80" width="12.43" height="1.65" fill="#ee8a8e"/><rect x="63.17" y="569.80" width="12.43" height="1.65" fill="#f3adb1"/><rect x="75.55" y="569.80" width="12.43" height="1.65" fill="#8786ed"/><rect x="87.93" y="569.80" width="12.43" height="1.65" fill="#cdcbf5"/><rect x="100.32" y="569.80" width="12.43" height="1.65" fill="#acaaf1"/><rect x="38.40" y="571.40" width="12.43" height="1.65" fill="#f4b6ba"/><rect x="50.78" y="571.40" width="12.43" height="1.65" fill="#ef9196"/><rect x="63.17" y="571.40" width="12.43" height="1.65" fill="#f7d1d4"/><rect x="75.55" y="571.40" width="12.43" height="1.65" fill="#9e9def"/><rect x="87.93" y="571.40" width="12.43" height="1.65" fill="#acaaf1"/><rect x="100.32" y="571.40" width="12.43" height="1.65" fill="#e5e1f7"/><rect x="38.40" y="573.00" width="12.43" height="1.65" fill="#f3afb3"/><rect x="50.78" y="573.00" width="12.43" height="1.65" fill="#ef9498"/><rect x="63.17" y="573.00" width="12.43" height="1.65" fill="#f9dee1"/><rect x="75.55" y="573.00" width="12.43" height="1.65" fill="#8a89ed"/><rect x="87.93" y="573.00" width="12.43" height="1.65" fill="#a19ff0"/><rect x="100.32" y="573.00" width="12.43" height="1.65" fill="#b4b2f2"/><rect x="38.40" y="574.60" width="12.43" height="1.65" fill="#f3afb3"/><rect x="50.78" y="574.60" width="12.43" height="1.65" fill="#ef9398"/><rect x="63.17" y="574.60" width="12.43" height="1.65" fill="#f8dbdd"/><rect x="75.55" y="574.60" width="12.43" height="1.65" fill="#8382ec"/><rect x="87.93" y="574.60" width="12.43" height="1.65" fill="#a3a1f0"/><rect x="100.32" y="574.60" width="12.43" height="1.65" fill="#b9b7f2"/><rect x="38.40" y="576.20" width="12.43" height="1.65" fill="#f3adb1"/><rect x="50.78" y="576.20" width="12.43" height="1.65" fill="#f0999e"/><rect x="63.17" y="576.20" width="12.43" height="1.65" fill="#f8d8db"/><rect x="75.55" y="576.20" width="12.43" height="1.65" fill="#9695ee"/><rect x="87.93" y="576.20" width="12.43" height="1.65" fill="#b2aff2"/><rect x="100.32" y="576.20" width="12.43" height="1.65" fill="#b7b5f2"/><rect x="38.40" y="577.80" width="12.43" height="1.65" fill="#ee8b90"/><rect x="50.78" y="577.80" width="12.43" height="1.65" fill="#f3b2b6"/><rect x="63.17" y="577.80" width="12.43" height="1.65" fill="#f5c3c6"/><rect x="75.55" y="577.80" width="12.43" height="1.65" fill="#cac7f4"/><rect x="87.93" y="577.80" width="12.43" height="1.65" fill="#807fec"/><rect x="100.32" y="577.80" width="12.43" height="1.65" fill="#d1cef5"/><rect x="38.40" y="579.40" width="12.43" height="1.65" fill="#f1a3a7"/><rect x="50.78" y="579.40" width="12.43" height="1.65" fill="#f3afb3"/><rect x="63.17" y="579.40" width="12.43" height="1.65" fill="#f7d0d3"/><rect x="75.55" y="579.40" width="12.43" height="1.65" fill="#c5c2f4"/><rect x="87.93" y="579.40" width="12.43" height="1.65" fill="#7d7dec"/><rect x="100.32" y="579.40" width="12.43" height="1.65" fill="#d1cef5"/><rect x="38.40" y="581.00" width="12.43" height="1.65" fill="#f09da1"/><rect x="50.78" y="581.00" width="12.43" height="1.65" fill="#f2abaf"/><rect x="63.17" y="581.00" width="12.43" height="1.65" fill="#f7d3d6"/><rect x="75.55" y="581.00" width="12.43" height="1.65" fill="#c6c3f4"/><rect x="87.93" y="581.00" width="12.43" height="1.65" fill="#8382ec"/><rect x="100.32" y="581.00" width="12.43" height="1.65" fill="#d8d5f6"/><rect x="38.40" y="582.60" width="12.43" height="1.65" fill="#f0989d"/><rect x="50.78" y="582.60" width="12.43" height="1.65" fill="#f1a3a7"/><rect x="63.17" y="582.60" width="12.43" height="1.65" fill="#f4b6ba"/><rect x="75.55" y="582.60" width="12.43" height="1.65" fill="#dfdbf7"/><rect x="87.93" y="582.60" width="12.43" height="1.65" fill="#7c7ceb"/><rect x="100.32" y="582.60" width="12.43" height="1.65" fill="#dcd9f6"/><rect x="38.40" y="584.20" width="12.43" height="1.65" fill="#ed8085"/><rect x="50.78" y="584.20" width="12.43" height="1.65" fill="#f09ba0"/><rect x="63.17" y="584.20" width="12.43" height="1.65" fill="#f6cacd"/><rect x="75.55" y="584.20" width="12.43" height="1.65" fill="#cdcaf5"/><rect x="87.93" y="584.20" width="12.43" height="1.65" fill="#8382ec"/><rect x="100.32" y="584.20" width="12.43" height="1.65" fill="#d1cef5"/><rect x="38.40" y="585.80" width="12.43" height="1.65" fill="#f0959a"/><rect x="50.78" y="585.80" width="12.43" height="1.65" fill="#f09a9e"/><rect x="63.17" y="585.80" width="12.43" height="1.65" fill="#f8dcdf"/><rect x="75.55" y="585.80" width="12.43" height="1.65" fill="#c0bdf3"/><rect x="87.93" y="585.80" width="12.43" height="1.65" fill="#9795ee"/><rect x="100.32" y="585.80" width="12.43" height="1.65" fill="#d2cff5"/><rect x="38.40" y="587.40" width="12.43" height="1.65" fill="#ef9296"/><rect x="50.78" y="587.40" width="12.43" height="1.65" fill="#ef9296"/><rect x="63.17" y="587.40" width="12.43" height="1.65" fill="#f8d8db"/><rect x="75.55" y="587.40" width="12.43" height="1.65" fill="#c7c4f4"/><rect x="87.93" y="587.40" width="12.43" height="1.65" fill="#9190ee"/><rect x="100.32" y="587.40" width="12.43" height="1.65" fill="#c7c4f4"/><rect x="38.40" y="589.00" width="12.43" height="1.65" fill="#f0979b"/><rect x="50.78" y="589.00" width="12.43" height="1.65" fill="#f0989c"/><rect x="63.17" y="589.00" width="12.43" height="1.65" fill="#f6c6c9"/><rect x="75.55" y="589.00" width="12.43" height="1.65" fill="#ccc9f5"/><rect x="87.93" y="589.00" width="12.43" height="1.65" fill="#9694ee"/><rect x="100.32" y="589.00" width="12.43" height="1.65" fill="#dbd8f6"/><rect x="38.40" y="590.60" width="12.43" height="1.65" fill="#f19fa4"/><rect x="50.78" y="590.60" width="12.43" height="1.65" fill="#f1a4a8"/><rect x="63.17" y="590.60" width="12.43" height="1.65" fill="#f8d5d7"/><rect x="75.55" y="590.60" width="12.43" height="1.65" fill="#cac8f4"/><rect x="87.93" y="590.60" width="12.43" height="1.65" fill="#7e7eec"/><rect x="100.32" y="590.60" width="12.43" height="1.65" fill="#d4d1f5"/><rect x="38.40" y="592.20" width="12.43" height="1.65" fill="#f19ea2"/><rect x="50.78" y="592.20" width="12.43" height="1.65" fill="#ee8a8f"/><rect x="63.17" y="592.20" width="12.43" height="1.65" fill="#f7d4d7"/><rect x="75.55" y="592.20" width="12.43" height="1.65" fill="#d5d2f6"/><rect x="87.93" y="592.20" width="12.43" height="1.65" fill="#807fec"/><rect x="100.32" y="592.20" width="12.43" height="1.65" fill="#d8d5f6"/><rect x="38.40" y="593.80" width="12.43" height="1.65" fill="#ef9297"/><rect x="50.78" y="593.80" width="12.43" height="1.65" fill="#ef9196"/><rect x="63.17" y="593.80" width="12.43" height="1.65" fill="#f7d1d4"/><rect x="75.55" y="593.80" width="12.43" height="1.65" fill="#f2eef9"/><rect x="87.93" y="593.80" width="12.43" height="1.65" fill="#acaaf1"/><rect x="100.32" y="593.80" width="12.43" height="1.65" fill="#bcbaf3"/><rect x="38.40" y="595.40" width="12.43" height="1.65" fill="#f0999d"/><rect x="50.78" y="595.40" width="12.43" height="1.65" fill="#f0969a"/><rect x="63.17" y="595.40" width="12.43" height="1.65" fill="#f7d4d7"/><rect x="75.55" y="595.40" width="12.43" height="1.65" fill="#d8d5f6"/><rect x="87.93" y="595.40" width="12.43" height="1.65" fill="#a5a3f0"/><rect x="100.32" y="595.40" width="12.43" height="1.65" fill="#b2b0f2"/><rect x="38.40" y="597.00" width="12.43" height="1.65" fill="#f2a6aa"/><rect x="50.78" y="597.00" width="12.43" height="1.65" fill="#f1a0a4"/><rect x="63.17" y="597.00" width="12.43" height="1.65" fill="#f7cdd0"/><rect x="75.55" y="597.00" width="12.43" height="1.65" fill="#b9b7f2"/><rect x="87.93" y="597.00" width="12.43" height="1.65" fill="#b0aef1"/><rect x="100.32" y="597.00" width="12.43" height="1.65" fill="#b6b3f2"/><rect x="38.40" y="598.60" width="12.43" height="1.65" fill="#f2acb0"/><rect x="50.78" y="598.60" width="12.43" height="1.65" fill="#f2a6aa"/><rect x="63.17" y="598.60" width="12.43" height="1.65" fill="#f8d6d9"/><rect x="75.55" y="598.60" width="12.43" height="1.65" fill="#c3c1f4"/><rect x="87.93" y="598.60" width="12.43" height="1.65" fill="#a2a1f0"/><rect x="100.32" y="598.60" width="12.43" height="1.65" fill="#afadf1"/><rect x="38.40" y="600.20" width="12.43" height="1.65" fill="#f3adb1"/><rect x="50.78" y="600.20" width="12.43" height="1.65" fill="#f3b0b3"/><rect x="63.17" y="600.20" width="12.43" height="1.65" fill="#f7ced1"/><rect x="75.55" y="600.20" width="12.43" height="1.65" fill="#c7c5f4"/><rect x="87.93" y="600.20" width="12.43" height="1.65" fill="#b7b5f2"/><rect x="100.32" y="600.20" width="12.43" height="1.65" fill="#b7b5f2"/><rect x="38.40" y="601.80" width="12.43" height="1.65" fill="#f0999d"/><rect x="50.78" y="601.80" width="12.43" height="1.65" fill="#f1a0a4"/><rect x="63.17" y="601.80" width="12.43" height="1.65" fill="#f6c5c8"/><rect x="75.55" y="601.80" width="12.43" height="1.65" fill="#908fee"/><rect x="87.93" y="601.80" width="12.43" height="1.65" fill="#b2b0f2"/><rect x="100.32" y="601.80" width="12.43" height="1.65" fill="#ccc9f5"/><rect x="38.40" y="603.40" width="12.43" height="1.65" fill="#f0969b"/><rect x="50.78" y="603.40" width="12.43" height="1.65" fill="#ed858a"/><rect x="63.17" y="603.40" width="12.43" height="1.65" fill="#f7d3d6"/><rect x="75.55" y="603.40" width="12.43" height="1.65" fill="#9695ee"/><rect x="87.93" y="603.40" width="12.43" height="1.65" fill="#a2a0f0"/><rect x="100.32" y="603.40" width="12.43" height="1.65" fill="#ccc9f5"/><rect x="38.40" y="605.00" width="12.43" height="1.65" fill="#ed8489"/><rect x="50.78" y="605.00" width="12.43" height="1.65" fill="#ef8e92"/><rect x="63.17" y="605.00" width="12.43" height="1.65" fill="#f7cdd0"/><rect x="75.55" y="605.00" width="12.43" height="1.65" fill="#9a98ef"/><rect x="87.93" y="605.00" width="12.43" height="1.65" fill="#b6b3f2"/><rect x="100.32" y="605.00" width="12.43" height="1.65" fill="#d4d1f5"/><rect x="38.40" y="606.60" width="12.43" height="1.65" fill="#eb7176"/><rect x="50.78" y="606.60" width="12.43" height="1.65" fill="#ee8b90"/><rect x="63.17" y="606.60" width="12.43" height="1.65" fill="#f6c5c8"/><rect x="75.55" y="606.60" width="12.43" height="1.65" fill="#8d8ced"/><rect x="87.93" y="606.60" width="12.43" height="1.65" fill="#acaaf1"/><rect x="100.32" y="606.60" width="12.43" height="1.65" fill="#c2c0f3"/><rect x="38.40" y="608.20" width="12.43" height="1.65" fill="#ee898e"/><rect x="50.78" y="608.20" width="12.43" height="1.65" fill="#ef9398"/><rect x="63.17" y="608.20" width="12.43" height="1.65" fill="#f5c3c7"/><rect x="75.55" y="608.20" width="12.43" height="1.65" fill="#a4a3f0"/><rect x="87.93" y="608.20" width="12.43" height="1.65" fill="#cbc8f4"/><rect x="100.32" y="608.20" width="12.43" height="1.65" fill="#b6b4f2"/><rect x="38.40" y="609.80" width="12.43" height="1.65" fill="#f0959a"/><rect x="50.78" y="609.80" width="12.43" height="1.65" fill="#ef8f94"/><rect x="63.17" y="609.80" width="12.43" height="1.65" fill="#f7d1d4"/><rect x="75.55" y="609.80" width="12.43" height="1.65" fill="#b0aef1"/><rect x="87.93" y="609.80" width="12.43" height="1.65" fill="#c9c6f4"/><rect x="100.32" y="609.80" width="12.43" height="1.65" fill="#a4a3f0"/><rect x="38.40" y="611.40" width="12.43" height="1.65" fill="#f0979c"/><rect x="50.78" y="611.40" width="12.43" height="1.65" fill="#ef9196"/><rect x="63.17" y="611.40" width="12.43" height="1.65" fill="#f7d0d3"/><rect x="75.55" y="611.40" width="12.43" height="1.65" fill="#a9a7f0"/><rect x="87.93" y="611.40" width="12.43" height="1.65" fill="#bab7f2"/><rect x="100.32" y="611.40" width="12.43" height="1.65" fill="#9c9aef"/><rect x="38.40" y="613.00" width="12.43" height="1.65" fill="#f2aaae"/><rect x="50.78" y="613.00" width="12.43" height="1.65" fill="#ed858a"/><rect x="63.17" y="613.00" width="12.43" height="1.65" fill="#f7d0d3"/><rect x="75.55" y="613.00" width="12.43" height="1.65" fill="#aba9f1"/><rect x="87.93" y="613.00" width="12.43" height="1.65" fill="#a09ff0"/><rect x="100.32" y="613.00" width="12.43" height="1.65" fill="#a8a6f0"/><rect x="38.40" y="614.60" width="12.43" height="1.65" fill="#e1def7"/><rect x="50.78" y="614.60" width="12.43" height="1.65" fill="#9695ee"/><rect x="63.17" y="614.60" width="12.43" height="1.65" fill="#a9a7f0"/><rect x="75.55" y="614.60" width="12.43" height="1.65" fill="#f6c7ca"/><rect x="87.93" y="614.60" width="12.43" height="1.65" fill="#ee888d"/><rect x="100.32" y="614.60" width="12.43" height="1.65" fill="#ef9397"/><rect x="38.40" y="616.20" width="12.43" height="1.65" fill="#fcf8fa"/><rect x="50.78" y="616.20" width="12.43" height="1.65" fill="#a3a1f0"/><rect x="63.17" y="616.20" width="12.43" height="1.65" fill="#a6a4f0"/><rect x="75.55" y="616.20" width="12.43" height="1.65" fill="#f7d4d7"/><rect x="87.93" y="616.20" width="12.43" height="1.65" fill="#ed7e83"/><rect x="100.32" y="616.20" width="12.43" height="1.65" fill="#f0989c"/><rect x="38.40" y="617.80" width="12.43" height="1.65" fill="#ece9f8"/><rect x="50.78" y="617.80" width="12.43" height="1.65" fill="#a3a1f0"/><rect x="63.17" y="617.80" width="12.43" height="1.65" fill="#a3a2f0"/><rect x="75.55" y="617.80" width="12.43" height="1.65" fill="#fbf0f2"/><rect x="87.93" y="617.80" width="12.43" height="1.65" fill="#ed8388"/><rect x="100.32" y="617.80" width="12.43" height="1.65" fill="#f09da1"/><rect x="38.40" y="619.40" width="12.43" height="1.65" fill="#ebe8f8"/><rect x="50.78" y="619.40" width="12.43" height="1.65" fill="#a5a3f0"/><rect x="63.17" y="619.40" width="12.43" height="1.65" fill="#adabf1"/><rect x="75.55" y="619.40" width="12.43" height="1.65" fill="#f9e4e6"/><rect x="87.93" y="619.40" width="12.43" height="1.65" fill="#ef9499"/><rect x="100.32" y="619.40" width="12.43" height="1.65" fill="#f09ca1"/><rect x="38.40" y="621.00" width="12.43" height="1.65" fill="#efecf9"/><rect x="50.78" y="621.00" width="12.43" height="1.65" fill="#aaa9f1"/><rect x="63.17" y="621.00" width="12.43" height="1.65" fill="#a19ff0"/><rect x="75.55" y="621.00" width="12.43" height="1.65" fill="#fbf0f2"/><rect x="87.93" y="621.00" width="12.43" height="1.65" fill="#ec7b80"/><rect x="100.32" y="621.00" width="12.43" height="1.65" fill="#f19fa3"/><rect x="38.40" y="622.60" width="12.43" height="1.65" fill="#e9e5f8"/><rect x="50.78" y="622.60" width="12.43" height="1.65" fill="#b0aef1"/><rect x="63.17" y="622.60" width="12.43" height="1.65" fill="#8b8aed"/><rect x="75.55" y="622.60" width="12.43" height="1.65" fill="#f8dadd"/><rect x="87.93" y="622.60" width="12.43" height="1.65" fill="#ed8489"/><rect x="100.32" y="622.60" width="12.43" height="1.65" fill="#f3afb3"/><rect x="38.40" y="624.20" width="12.43" height="1.65" fill="#dad6f6"/><rect x="50.78" y="624.20" width="12.43" height="1.65" fill="#dcd9f6"/><rect x="63.17" y="624.20" width="12.43" height="1.65" fill="#a4a3f0"/><rect x="75.55" y="624.20" width="12.43" height="1.65" fill="#f8dadd"/><rect x="87.93" y="624.20" width="12.43" height="1.65" fill="#f3b1b5"/><rect x="100.32" y="624.20" width="12.43" height="1.65" fill="#f2aaae"/><rect x="38.40" y="625.80" width="12.43" height="1.65" fill="#d4d1f5"/><rect x="50.78" y="625.80" width="12.43" height="1.65" fill="#e4e0f7"/><rect x="63.17" y="625.80" width="12.43" height="1.65" fill="#a5a3f0"/><rect x="75.55" y="625.80" width="12.43" height="1.65" fill="#f4b7bb"/><rect x="87.93" y="625.80" width="12.43" height="1.65" fill="#f19da2"/><rect x="100.32" y="625.80" width="12.43" height="1.65" fill="#f3afb3"/><rect x="38.40" y="627.40" width="12.43" height="1.65" fill="#cdcbf5"/><rect x="50.78" y="627.40" width="12.43" height="1.65" fill="#e0dcf7"/><rect x="63.17" y="627.40" width="12.43" height="1.65" fill="#a6a4f0"/><rect x="75.55" y="627.40" width="12.43" height="1.65" fill="#f4b6ba"/><rect x="87.93" y="627.40" width="12.43" height="1.65" fill="#f2a9ad"/><rect x="100.32" y="627.40" width="12.43" height="1.65" fill="#f2aaae"/><rect x="38.40" y="629.00" width="12.43" height="1.65" fill="#9291ee"/><rect x="50.78" y="629.00" width="12.43" height="1.65" fill="#f7f3f9"/><rect x="63.17" y="629.00" width="12.43" height="1.65" fill="#908eee"/><rect x="75.55" y="629.00" width="12.43" height="1.65" fill="#ef9095"/><rect x="87.93" y="629.00" width="12.43" height="1.65" fill="#f6cbce"/><rect x="100.32" y="629.00" width="12.43" height="1.65" fill="#f4b8bb"/><rect x="38.40" y="630.60" width="12.43" height="1.65" fill="#9997ef"/><rect x="50.78" y="630.60" width="12.43" height="1.65" fill="#ede9f8"/><rect x="63.17" y="630.60" width="12.43" height="1.65" fill="#9391ee"/><rect x="75.55" y="630.60" width="12.43" height="1.65" fill="#ef9095"/><rect x="87.93" y="630.60" width="12.43" height="1.65" fill="#f6c7cb"/><rect x="100.32" y="630.60" width="12.43" height="1.65" fill="#f6c7ca"/><rect x="38.40" y="632.20" width="12.43" height="1.65" fill="#8f8eee"/><rect x="50.78" y="632.20" width="12.43" height="1.65" fill="#edeaf8"/><rect x="63.17" y="632.20" width="12.43" height="1.65" fill="#9190ee"/><rect x="75.55" y="632.20" width="12.43" height="1.65" fill="#f2a9ad"/><rect x="87.93" y="632.20" width="12.43" height="1.65" fill="#f5c4c7"/><rect x="100.32" y="632.20" width="12.43" height="1.65" fill="#f5c3c6"/><rect x="38.40" y="633.80" width="12.43" height="1.65" fill="#9695ee"/><rect x="50.78" y="633.80" width="12.43" height="1.65" fill="#ece9f8"/><rect x="63.17" y="633.80" width="12.43" height="1.65" fill="#9291ee"/><rect x="75.55" y="633.80" width="12.43" height="1.65" fill="#f3b3b6"/><rect x="87.93" y="633.80" width="12.43" height="1.65" fill="#f8d6d8"/><rect x="100.32" y="633.80" width="12.43" height="1.65" fill="#f7d4d7"/><rect x="38.40" y="635.40" width="12.43" height="1.65" fill="#9998ef"/><rect x="50.78" y="635.40" width="12.43" height="1.65" fill="#e3e0f7"/><rect x="63.17" y="635.40" width="12.43" height="1.65" fill="#9796ef"/><rect x="75.55" y="635.40" width="12.43" height="1.65" fill="#f6c8cb"/><rect x="87.93" y="635.40" width="12.43" height="1.65" fill="#f8d7da"/><rect x="100.32" y="635.40" width="12.43" height="1.65" fill="#f5bec1"/><rect x="38.40" y="637.00" width="12.43" height="1.65" fill="#a9a7f1"/><rect x="50.78" y="637.00" width="12.43" height="1.65" fill="#c5c3f4"/><rect x="63.17" y="637.00" width="12.43" height="1.65" fill="#8685ed"/><rect x="75.55" y="637.00" width="12.43" height="1.65" fill="#f5c1c5"/><rect x="87.93" y="637.00" width="12.43" height="1.65" fill="#f9e2e4"/><rect x="100.32" y="637.00" width="12.43" height="1.65" fill="#f5c2c6"/><rect x="38.40" y="638.60" width="12.43" height="1.65" fill="#b2b0f2"/><rect x="50.78" y="638.60" width="12.43" height="1.65" fill="#d7d4f6"/><rect x="63.17" y="638.60" width="12.43" height="1.65" fill="#8887ed"/><rect x="75.55" y="638.60" width="12.43" height="1.65" fill="#f5bfc2"/><rect x="87.93" y="638.60" width="12.43" height="1.65" fill="#f7d4d7"/><rect x="100.32" y="638.60" width="12.43" height="1.65" fill="#f2acb0"/><rect x="38.40" y="640.20" width="12.43" height="1.65" fill="#aba9f1"/><rect x="50.78" y="640.20" width="12.43" height="1.65" fill="#d5d2f6"/><rect x="63.17" y="640.20" width="12.43" height="1.65" fill="#8d8ced"/><rect x="75.55" y="640.20" width="12.43" height="1.65" fill="#f6cacd"/><rect x="87.93" y="640.20" width="12.43" height="1.65" fill="#f7d1d4"/><rect x="100.32" y="640.20" width="12.43" height="1.65" fill="#f2a8ac"/><rect x="38.40" y="641.80" width="12.43" height="1.65" fill="#9291ee"/><rect x="50.78" y="641.80" width="12.43" height="1.65" fill="#b2b0f2"/><rect x="63.17" y="641.80" width="12.43" height="1.65" fill="#e0dcf7"/><rect x="75.55" y="641.80" width="12.43" height="1.65" fill="#f7d4d7"/><rect x="87.93" y="641.80" width="12.43" height="1.65" fill="#f2aaae"/><rect x="100.32" y="641.80" width="12.43" height="1.65" fill="#f4b9bd"/><rect x="38.40" y="643.40" width="12.43" height="1.65" fill="#7a79eb"/><rect x="50.78" y="643.40" width="12.43" height="1.65" fill="#c6c4f4"/><rect x="63.17" y="643.40" width="12.43" height="1.65" fill="#d4d1f5"/><rect x="75.55" y="643.40" width="12.43" height="1.65" fill="#f8d5d8"/><rect x="87.93" y="643.40" width="12.43" height="1.65" fill="#f1a3a7"/><rect x="100.32" y="643.40" width="12.43" height="1.65" fill="#f5bfc2"/><rect x="38.40" y="645.00" width="12.43" height="1.65" fill="#8685ed"/><rect x="50.78" y="645.00" width="12.43" height="1.65" fill="#bcb9f3"/><rect x="63.17" y="645.00" width="12.43" height="1.65" fill="#c2bff3"/><rect x="75.55" y="645.00" width="12.43" height="1.65" fill="#f8dadc"/><rect x="87.93" y="645.00" width="12.43" height="1.65" fill="#f1a2a6"/><rect x="100.32" y="645.00" width="12.43" height="1.65" fill="#f3afb3"/><rect x="38.40" y="646.60" width="12.43" height="1.65" fill="#c7c5f4"/><rect x="50.78" y="646.60" width="12.43" height="1.65" fill="#7070ea"/><rect x="63.17" y="646.60" width="12.43" height="1.65" fill="#cdcbf5"/><rect x="75.55" y="646.60" width="12.43" height="1.65" fill="#f2adb0"/><rect x="87.93" y="646.60" width="12.43" height="1.65" fill="#f2adb1"/><rect x="100.32" y="646.60" width="12.43" height="1.65" fill="#ef9297"/><rect x="38.40" y="648.20" width="12.43" height="1.65" fill="#c2c0f3"/><rect x="50.78" y="648.20" width="12.43" height="1.65" fill="#8382ec"/><rect x="63.17" y="648.20" width="12.43" height="1.65" fill="#c9c6f4"/><rect x="75.55" y="648.20" width="12.43" height="1.65" fill="#f4b7bb"/><rect x="87.93" y="648.20" width="12.43" height="1.65" fill="#f2a6aa"/><rect x="100.32" y="648.20" width="12.43" height="1.65" fill="#ee888c"/><rect x="38.40" y="649.80" width="12.43" height="1.65" fill="#bdbaf3"/><rect x="50.78" y="649.80" width="12.43" height="1.65" fill="#8786ed"/><rect x="63.17" y="649.80" width="12.43" height="1.65" fill="#c0bef3"/><rect x="75.55" y="649.80" width="12.43" height="1.65" fill="#f3b0b4"/><rect x="87.93" y="649.80" width="12.43" height="1.65" fill="#f4b8bc"/><rect x="100.32" y="649.80" width="12.43" height="1.65" fill="#f0969a"/><rect x="38.40" y="651.40" width="12.43" height="1.65" fill="#b0aef1"/><rect x="50.78" y="651.40" width="12.43" height="1.65" fill="#8685ed"/><rect x="63.17" y="651.40" width="12.43" height="1.65" fill="#c7c4f4"/><rect x="75.55" y="651.40" width="12.43" height="1.65" fill="#f3b1b5"/><rect x="87.93" y="651.40" width="12.43" height="1.65" fill="#f6c8cb"/><rect x="100.32" y="651.40" width="12.43" height="1.65" fill="#f1a0a4"/><rect x="38.40" y="653.00" width="12.43" height="1.65" fill="#b4b2f2"/><rect x="50.78" y="653.00" width="12.43" height="1.65" fill="#8180ec"/><rect x="63.17" y="653.00" width="12.43" height="1.65" fill="#ceccf5"/><rect x="75.55" y="653.00" width="12.43" height="1.65" fill="#f6c5c9"/><rect x="87.93" y="653.00" width="12.43" height="1.65" fill="#f3b1b5"/><rect x="100.32" y="653.00" width="12.43" height="1.65" fill="#f0989d"/><rect x="38.40" y="654.60" width="12.43" height="1.65" fill="#b0aef1"/><rect x="50.78" y="654.60" width="12.43" height="1.65" fill="#7171ea"/><rect x="63.17" y="654.60" width="12.43" height="1.65" fill="#d6d3f6"/><rect x="75.55" y="654.60" width="12.43" height="1.65" fill="#f5c1c4"/><rect x="87.93" y="654.60" width="12.43" height="1.65" fill="#f3aeb1"/><rect x="100.32" y="654.60" width="12.43" height="1.65" fill="#ee898e"/><rect x="38.40" y="656.20" width="12.43" height="1.65" fill="#bbb9f3"/><rect x="50.78" y="656.20" width="12.43" height="1.65" fill="#a8a6f0"/><rect x="63.17" y="656.20" width="12.43" height="1.65" fill="#c5c3f4"/><rect x="75.55" y="656.20" width="12.43" height="1.65" fill="#f4b9bd"/><rect x="87.93" y="656.20" width="12.43" height="1.65" fill="#f0979b"/><rect x="100.32" y="656.20" width="12.43" height="1.65" fill="#f19ea2"/><rect x="38.40" y="657.80" width="12.43" height="1.65" fill="#c6c4f4"/><rect x="50.78" y="657.80" width="12.43" height="1.65" fill="#a9a8f1"/><rect x="63.17" y="657.80" width="12.43" height="1.65" fill="#c5c3f4"/><rect x="75.55" y="657.80" width="12.43" height="1.65" fill="#f6c7ca"/><rect x="87.93" y="657.80" width="12.43" height="1.65" fill="#ef9499"/><rect x="100.32" y="657.80" width="12.43" height="1.65" fill="#f2a8ac"/><rect x="38.40" y="659.40" width="12.43" height="1.65" fill="#b8b5f2"/><rect x="50.78" y="659.40" width="12.43" height="1.65" fill="#b9b7f2"/><rect x="63.17" y="659.40" width="12.43" height="1.65" fill="#b6b3f2"/><rect x="75.55" y="659.40" width="12.43" height="1.65" fill="#f7ced1"/><rect x="87.93" y="659.40" width="12.43" height="1.65" fill="#ef9196"/><rect x="100.32" y="659.40" width="12.43" height="1.65" fill="#f4bdc0"/><rect x="38.40" y="661.00" width="12.43" height="1.65" fill="#a7a5f0"/><rect x="50.78" y="661.00" width="12.43" height="1.65" fill="#b9b6f2"/><rect x="63.17" y="661.00" width="12.43" height="1.65" fill="#cac7f4"/><rect x="75.55" y="661.00" width="12.43" height="1.65" fill="#f6c5c8"/><rect x="87.93" y="661.00" width="12.43" height="1.65" fill="#f0979b"/><rect x="100.32" y="661.00" width="12.43" height="1.65" fill="#f5c0c3"/><rect x="38.40" y="662.60" width="12.43" height="1.65" fill="#9b99ef"/><rect x="50.78" y="662.60" width="12.43" height="1.65" fill="#a19ff0"/><rect x="63.17" y="662.60" width="12.43" height="1.65" fill="#cecbf5"/><rect x="75.55" y="662.60" width="12.43" height="1.65" fill="#f5bfc3"/><rect x="87.93" y="662.60" width="12.43" height="1.65" fill="#f7d2d5"/><rect x="100.32" y="662.60" width="12.43" height="1.65" fill="#f2aaae"/><rect x="38.40" y="664.20" width="12.43" height="1.65" fill="#9897ef"/><rect x="50.78" y="664.20" width="12.43" height="1.65" fill="#9493ee"/><rect x="63.17" y="664.20" width="12.43" height="1.65" fill="#d2cff5"/><rect x="75.55" y="664.20" width="12.43" height="1.65" fill="#ef9195"/><rect x="87.93" y="664.20" width="12.43" height="1.65" fill="#f6cccf"/><rect x="100.32" y="664.20" width="12.43" height="1.65" fill="#f1a3a7"/><rect x="38.40" y="665.80" width="12.43" height="1.65" fill="#8e8ded"/><rect x="50.78" y="665.80" width="12.43" height="1.65" fill="#8d8ced"/><rect x="63.17" y="665.80" width="12.43" height="1.65" fill="#ccc9f4"/><rect x="75.55" y="665.80" width="12.43" height="1.65" fill="#f0989c"/><rect x="87.93" y="665.80" width="12.43" height="1.65" fill="#f6c6c9"/><rect x="100.32" y="665.80" width="12.43" height="1.65" fill="#f19ea2"/><rect x="38.40" y="667.40" width="12.43" height="1.65" fill="#a9a7f1"/><rect x="50.78" y="667.40" width="12.43" height="1.65" fill="#a09ef0"/><rect x="63.17" y="667.40" width="12.43" height="1.65" fill="#c4c1f4"/><rect x="75.55" y="667.40" width="12.43" height="1.65" fill="#ef9499"/><rect x="87.93" y="667.40" width="12.43" height="1.65" fill="#f6cacd"/><rect x="100.32" y="667.40" width="12.43" height="1.65" fill="#f0989c"/><rect x="38.40" y="669.00" width="12.43" height="1.65" fill="#a3a1f0"/><rect x="50.78" y="669.00" width="12.43" height="1.65" fill="#8d8ced"/><rect x="63.17" y="669.00" width="12.43" height="1.65" fill="#cbc8f4"/><rect x="75.55" y="669.00" width="12.43" height="1.65" fill="#f0979c"/><rect x="87.93" y="669.00" width="12.43" height="1.65" fill="#f6cccf"/><rect x="100.32" y="669.00" width="12.43" height="1.65" fill="#ef9398"/><rect x="38.40" y="670.60" width="12.43" height="1.65" fill="#9896ef"/><rect x="50.78" y="670.60" width="12.43" height="1.65" fill="#7b7beb"/><rect x="63.17" y="670.60" width="12.43" height="1.65" fill="#f5f1f9"/><rect x="75.55" y="670.60" width="12.43" height="1.65" fill="#f2a8ac"/><rect x="87.93" y="670.60" width="12.43" height="1.65" fill="#f4bcc0"/><rect x="100.32" y="670.60" width="12.43" height="1.65" fill="#ee8d91"/><rect x="38.40" y="672.20" width="12.43" height="1.65" fill="#9b9aef"/><rect x="50.78" y="672.20" width="12.43" height="1.65" fill="#6f6eea"/><rect x="63.17" y="672.20" width="12.43" height="1.65" fill="#e9e5f8"/><rect x="75.55" y="672.20" width="12.43" height="1.65" fill="#f3b1b4"/><rect x="87.93" y="672.20" width="12.43" height="1.65" fill="#f8dcde"/><rect x="100.32" y="672.20" width="12.43" height="1.65" fill="#ef9398"/><rect x="38.40" y="673.80" width="12.43" height="1.65" fill="#a4a2f0"/><rect x="50.78" y="673.80" width="12.43" height="1.65" fill="#7d7cec"/><rect x="63.17" y="673.80" width="12.43" height="1.65" fill="#d1cef5"/><rect x="75.55" y="673.80" width="12.43" height="1.65" fill="#f2a8ac"/><rect x="87.93" y="673.80" width="12.43" height="1.65" fill="#f7d1d4"/><rect x="100.32" y="673.80" width="12.43" height="1.65" fill="#f09a9e"/><rect x="38.40" y="675.40" width="12.43" height="1.65" fill="#aeacf1"/><rect x="50.78" y="675.40" width="12.43" height="1.65" fill="#8988ed"/><rect x="63.17" y="675.40" width="12.43" height="1.65" fill="#e1def7"/><rect x="75.55" y="675.40" width="12.43" height="1.65" fill="#ee8b8f"/><rect x="87.93" y="675.40" width="12.43" height="1.65" fill="#f7d2d5"/><rect x="100.32" y="675.40" width="12.43" height="1.65" fill="#f09a9e"/><rect x="38.40" y="677.00" width="12.43" height="1.65" fill="#9b99ef"/><rect x="50.78" y="677.00" width="12.43" height="1.65" fill="#8d8ced"/><rect x="63.17" y="677.00" width="12.43" height="1.65" fill="#f3eff9"/><rect x="75.55" y="677.00" width="12.43" height="1.65" fill="#ee8c90"/><rect x="87.93" y="677.00" width="12.43" height="1.65" fill="#f7d2d5"/><rect x="100.32" y="677.00" width="12.43" height="1.65" fill="#f1a2a6"/><rect x="38.40" y="678.60" width="12.43" height="1.65" fill="#9897ef"/><rect x="50.78" y="678.60" width="12.43" height="1.65" fill="#8b8aed"/><rect x="63.17" y="678.60" width="12.43" height="1.65" fill="#f4f0f9"/><rect x="75.55" y="678.60" width="12.43" height="1.65" fill="#ef9397"/><rect x="87.93" y="678.60" width="12.43" height="1.65" fill="#f6c5c8"/><rect x="100.32" y="678.60" width="12.43" height="1.65" fill="#f1a2a6"/><rect x="38.40" y="680.20" width="12.43" height="1.65" fill="#f0edf9"/><rect x="50.78" y="680.20" width="12.43" height="1.65" fill="#b1aff2"/><rect x="63.17" y="680.20" width="12.43" height="1.65" fill="#b3b1f2"/><rect x="75.55" y="680.20" width="12.43" height="1.65" fill="#ef9196"/><rect x="87.93" y="680.20" width="12.43" height="1.65" fill="#eb747a"/><rect x="100.32" y="680.20" width="12.43" height="1.65" fill="#f8d8db"/><rect x="38.40" y="681.80" width="12.43" height="1.65" fill="#d4d1f5"/><rect x="50.78" y="681.80" width="12.43" height="1.65" fill="#a9a7f1"/><rect x="63.17" y="681.80" width="12.43" height="1.65" fill="#a5a3f0"/><rect x="75.55" y="681.80" width="12.43" height="1.65" fill="#f3afb3"/><rect x="87.93" y="681.80" width="12.43" height="1.65" fill="#eb7277"/><rect x="100.32" y="681.80" width="12.43" height="1.65" fill="#f7d4d7"/><rect x="38.40" y="683.40" width="12.43" height="1.65" fill="#d8d5f6"/><rect x="50.78" y="683.40" width="12.43" height="1.65" fill="#a9a7f1"/><rect x="63.17" y="683.40" width="12.43" height="1.65" fill="#b5b2f2"/><rect x="75.55" y="683.40" width="12.43" height="1.65" fill="#f3aeb2"/><rect x="87.93" y="683.40" width="12.43" height="1.65" fill="#ea6a70"/><rect x="100.32" y="683.40" width="12.43" height="1.65" fill="#f8dadc"/><rect x="38.40" y="685.00" width="12.43" height="1.65" fill="#d4d1f5"/><rect x="50.78" y="685.00" width="12.43" height="1.65" fill="#acaaf1"/><rect x="63.17" y="685.00" width="12.43" height="1.65" fill="#afadf1"/><rect x="75.55" y="685.00" width="12.43" height="1.65" fill="#f4babe"/><rect x="87.93" y="685.00" width="12.43" height="1.65" fill="#eb6f75"/><rect x="100.32" y="685.00" width="12.43" height="1.65" fill="#f8dcde"/><rect x="38.40" y="686.60" width="12.43" height="1.65" fill="#d4d1f5"/><rect x="50.78" y="686.60" width="12.43" height="1.65" fill="#adabf1"/><rect x="63.17" y="686.60" width="12.43" height="1.65" fill="#bbb9f3"/><rect x="75.55" y="686.60" width="12.43" height="1.65" fill="#f4babe"/><rect x="87.93" y="686.60" width="12.43" height="1.65" fill="#ea6b71"/><rect x="100.32" y="686.60" width="12.43" height="1.65" fill="#f6c9cc"/><rect x="38.40" y="688.20" width="12.43" height="1.65" fill="#dbd8f6"/><rect x="50.78" y="688.20" width="12.43" height="1.65" fill="#9e9cef"/><rect x="63.17" y="688.20" width="12.43" height="1.65" fill="#adabf1"/><rect x="75.55" y="688.20" width="12.43" height="1.65" fill="#f3b2b6"/><rect x="87.93" y="688.20" width="12.43" height="1.65" fill="#ed858a"/><rect x="100.32" y="688.20" width="12.43" height="1.65" fill="#f6cbcf"/><rect x="38.40" y="689.80" width="12.43" height="1.65" fill="#cfccf5"/><rect x="50.78" y="689.80" width="12.43" height="1.65" fill="#a09ff0"/><rect x="63.17" y="689.80" width="12.43" height="1.65" fill="#9c9bef"/><rect x="75.55" y="689.80" width="12.43" height="1.65" fill="#f1a3a7"/><rect x="87.93" y="689.80" width="12.43" height="1.65" fill="#f9dfe2"/><rect x="100.32" y="689.80" width="12.43" height="1.65" fill="#f1a2a6"/><rect x="38.40" y="691.40" width="12.43" height="1.65" fill="#c3c0f3"/><rect x="50.78" y="691.40" width="12.43" height="1.65" fill="#b3b1f2"/><rect x="63.17" y="691.40" width="12.43" height="1.65" fill="#9594ee"/><rect x="75.55" y="691.40" width="12.43" height="1.65" fill="#f1a5a9"/><rect x="87.93" y="691.40" width="12.43" height="1.65" fill="#f8d5d8"/><rect x="100.32" y="691.40" width="12.43" height="1.65" fill="#f3b0b4"/><rect x="38.40" y="693.00" width="12.43" height="1.65" fill="#cfccf5"/><rect x="50.78" y="693.00" width="12.43" height="1.65" fill="#b6b3f2"/><rect x="63.17" y="693.00" width="12.43" height="1.65" fill="#7979eb"/><rect x="75.55" y="693.00" width="12.43" height="1.65" fill="#f1a4a8"/><rect x="87.93" y="693.00" width="12.43" height="1.65" fill="#f6cbce"/><rect x="100.32" y="693.00" width="12.43" height="1.65" fill="#f4b8bb"/><rect x="38.40" y="694.60" width="12.43" height="1.65" fill="#d2cff5"/><rect x="50.78" y="694.60" width="12.43" height="1.65" fill="#b8b6f2"/><rect x="63.17" y="694.60" width="12.43" height="1.65" fill="#9593ee"/><rect x="75.55" y="694.60" width="12.43" height="1.65" fill="#f09ca1"/><rect x="87.93" y="694.60" width="12.43" height="1.65" fill="#f6cacd"/><rect x="100.32" y="694.60" width="12.43" height="1.65" fill="#f2abaf"/><rect x="38.40" y="696.20" width="12.43" height="1.65" fill="#d9d6f6"/><rect x="50.78" y="696.20" width="12.43" height="1.65" fill="#aaa8f1"/><rect x="63.17" y="696.20" width="12.43" height="1.65" fill="#9c9aef"/><rect x="75.55" y="696.20" width="12.43" height="1.65" fill="#f09a9e"/><rect x="87.93" y="696.20" width="12.43" height="1.65" fill="#f6c7ca"/><rect x="100.32" y="696.20" width="12.43" height="1.65" fill="#f4b7bb"/><rect x="38.40" y="697.80" width="12.43" height="1.65" fill="#d3d0f5"/><rect x="50.78" y="697.80" width="12.43" height="1.65" fill="#b8b5f2"/><rect x="63.17" y="697.80" width="12.43" height="1.65" fill="#9190ee"/><rect x="75.55" y="697.80" width="12.43" height="1.65" fill="#f1a2a6"/><rect x="87.93" y="697.80" width="12.43" height="1.65" fill="#f7d2d5"/><rect x="100.32" y="697.80" width="12.43" height="1.65" fill="#f7d1d4"/><rect x="38.40" y="699.40" width="12.43" height="1.65" fill="#d1cef5"/><rect x="50.78" y="699.40" width="12.43" height="1.65" fill="#b3b1f2"/><rect x="63.17" y="699.40" width="12.43" height="1.65" fill="#9a99ef"/><rect x="75.55" y="699.40" width="12.43" height="1.65" fill="#f3b1b5"/><rect x="87.93" y="699.40" width="12.43" height="1.65" fill="#f7cdd0"/><rect x="100.32" y="699.40" width="12.43" height="1.65" fill="#f5c3c7"/><rect x="38.40" y="701.00" width="12.43" height="1.65" fill="#cbc8f4"/><rect x="50.78" y="701.00" width="12.43" height="1.65" fill="#c0bef3"/><rect x="63.17" y="701.00" width="12.43" height="1.65" fill="#9290ee"/><rect x="75.55" y="701.00" width="12.43" height="1.65" fill="#f2a7ab"/><rect x="87.93" y="701.00" width="12.43" height="1.65" fill="#f6cbce"/><rect x="100.32" y="701.00" width="12.43" height="1.65" fill="#f5c1c4"/><rect x="38.40" y="702.60" width="12.43" height="1.65" fill="#d2cff5"/><rect x="50.78" y="702.60" width="12.43" height="1.65" fill="#b9b7f2"/><rect x="63.17" y="702.60" width="12.43" height="1.65" fill="#8988ed"/><rect x="75.55" y="702.60" width="12.43" height="1.65" fill="#f2aaae"/><rect x="87.93" y="702.60" width="12.43" height="1.65" fill="#f9dde0"/><rect x="100.32" y="702.60" width="12.43" height="1.65" fill="#f6c5c8"/><rect x="38.40" y="704.20" width="12.43" height="1.65" fill="#d1cef5"/><rect x="50.78" y="704.20" width="12.43" height="1.65" fill="#ccc9f5"/><rect x="63.17" y="704.20" width="12.43" height="1.65" fill="#9594ee"/><rect x="75.55" y="704.20" width="12.43" height="1.65" fill="#f1a0a4"/><rect x="87.93" y="704.20" width="12.43" height="1.65" fill="#f8dadd"/><rect x="100.32" y="704.20" width="12.43" height="1.65" fill="#f6c5c9"/><rect x="38.40" y="705.80" width="12.43" height="1.65" fill="#d8d5f6"/><rect x="50.78" y="705.80" width="12.43" height="1.65" fill="#b1aff1"/><rect x="63.17" y="705.80" width="12.43" height="1.65" fill="#a9a8f1"/><rect x="75.55" y="705.80" width="12.43" height="1.65" fill="#ed8388"/><rect x="87.93" y="705.80" width="12.43" height="1.65" fill="#f7ced1"/><rect x="100.32" y="705.80" width="12.43" height="1.65" fill="#faebee"/><rect x="38.40" y="707.40" width="12.43" height="1.65" fill="#cac7f4"/><rect x="50.78" y="707.40" width="12.43" height="1.65" fill="#aeacf1"/><rect x="63.17" y="707.40" width="12.43" height="1.65" fill="#bab8f2"/><rect x="75.55" y="707.40" width="12.43" height="1.65" fill="#eb757a"/><rect x="87.93" y="707.40" width="12.43" height="1.65" fill="#f5c0c4"/><rect x="100.32" y="707.40" width="12.43" height="1.65" fill="#f9e0e3"/><rect x="38.40" y="709.00" width="12.43" height="1.65" fill="#dedbf7"/><rect x="50.78" y="709.00" width="12.43" height="1.65" fill="#afadf1"/><rect x="63.17" y="709.00" width="12.43" height="1.65" fill="#b4b2f2"/><rect x="75.55" y="709.00" width="12.43" height="1.65" fill="#ee888c"/><rect x="87.93" y="709.00" width="12.43" height="1.65" fill="#f4b6ba"/><rect x="100.32" y="709.00" width="12.43" height="1.65" fill="#f7d0d3"/><rect x="38.40" y="710.60" width="12.43" height="1.65" fill="#ccc9f5"/><rect x="50.78" y="710.60" width="12.43" height="1.65" fill="#b6b4f2"/><rect x="63.17" y="710.60" width="12.43" height="1.65" fill="#bfbdf3"/><rect x="75.55" y="710.60" width="12.43" height="1.65" fill="#ec7b80"/><rect x="87.93" y="710.60" width="12.43" height="1.65" fill="#f3afb3"/><rect x="100.32" y="710.60" width="12.43" height="1.65" fill="#f6c9cc"/><rect x="38.40" y="712.20" width="12.43" height="1.65" fill="#bfbcf3"/><rect x="50.78" y="712.20" width="12.43" height="1.65" fill="#b4b1f2"/><rect x="63.17" y="712.20" width="12.43" height="1.65" fill="#c3c0f3"/><rect x="75.55" y="712.20" width="12.43" height="1.65" fill="#ef9297"/><rect x="87.93" y="712.20" width="12.43" height="1.65" fill="#f3aeb2"/><rect x="100.32" y="712.20" width="12.43" height="1.65" fill="#f4b9bd"/><rect x="38.40" y="713.80" width="12.43" height="1.65" fill="#c9c7f4"/><rect x="50.78" y="713.80" width="12.43" height="1.65" fill="#b6b4f2"/><rect x="63.17" y="713.80" width="12.43" height="1.65" fill="#b9b7f2"/><rect x="75.55" y="713.80" width="12.43" height="1.65" fill="#ee878c"/><rect x="87.93" y="713.80" width="12.43" height="1.65" fill="#f5c4c8"/><rect x="100.32" y="713.80" width="12.43" height="1.65" fill="#f7d1d4"/><rect x="38.40" y="715.40" width="12.43" height="1.65" fill="#cfccf5"/><rect x="50.78" y="715.40" width="12.43" height="1.65" fill="#8483ec"/><rect x="63.17" y="715.40" width="12.43" height="1.65" fill="#f2eef9"/><rect x="75.55" y="715.40" width="12.43" height="1.65" fill="#ec7b81"/><rect x="87.93" y="715.40" width="12.43" height="1.65" fill="#f4b6b9"/><rect x="100.32" y="715.40" width="12.43" height="1.65" fill="#f3b2b6"/><rect x="38.40" y="717.00" width="12.43" height="1.65" fill="#bbb9f3"/><rect x="50.78" y="717.00" width="12.43" height="1.65" fill="#7978eb"/><rect x="63.17" y="717.00" width="12.43" height="1.65" fill="#fcf8fa"/><rect x="75.55" y="717.00" width="12.43" height="1.65" fill="#ed8287"/><rect x="87.93" y="717.00" width="12.43" height="1.65" fill="#f6c5c9"/><rect x="100.32" y="717.00" width="12.43" height="1.65" fill="#f5c2c5"/><rect x="38.40" y="718.60" width="12.43" height="1.65" fill="#a2a0f0"/><rect x="50.78" y="718.60" width="12.43" height="1.65" fill="#9796ee"/><rect x="63.17" y="718.60" width="12.43" height="1.65" fill="#f0edf9"/><rect x="75.55" y="718.60" width="12.43" height="1.65" fill="#ef8f94"/><rect x="87.93" y="718.60" width="12.43" height="1.65" fill="#f4b8bb"/><rect x="100.32" y="718.60" width="12.43" height="1.65" fill="#f4b9bd"/><rect x="38.40" y="720.20" width="12.43" height="1.65" fill="#b6b3f2"/><rect x="50.78" y="720.20" width="12.43" height="1.65" fill="#7f7fec"/><rect x="63.17" y="720.20" width="12.43" height="1.65" fill="#eeeaf8"/><rect x="75.55" y="720.20" width="12.43" height="1.65" fill="#ec7b81"/><rect x="87.93" y="720.20" width="12.43" height="1.65" fill="#f4bbbf"/><rect x="100.32" y="720.20" width="12.43" height="1.65" fill="#f6c9cc"/><rect x="38.40" y="721.80" width="12.43" height="1.65" fill="#c0bdf3"/><rect x="50.78" y="721.80" width="12.43" height="1.65" fill="#8988ed"/><rect x="63.17" y="721.80" width="12.43" height="1.65" fill="#e6e3f8"/><rect x="75.55" y="721.80" width="12.43" height="1.65" fill="#ec7c82"/><rect x="87.93" y="721.80" width="12.43" height="1.65" fill="#f2a6aa"/><rect x="100.32" y="721.80" width="12.43" height="1.65" fill="#f7ced1"/><rect x="38.40" y="723.40" width="12.43" height="1.65" fill="#b7b5f2"/><rect x="50.78" y="723.40" width="12.43" height="1.65" fill="#a6a4f0"/><rect x="63.17" y="723.40" width="12.43" height="1.65" fill="#e1def7"/><rect x="75.55" y="723.40" width="12.43" height="1.65" fill="#f2a6aa"/><rect x="87.93" y="723.40" width="12.43" height="1.65" fill="#f19fa4"/><rect x="100.32" y="723.40" width="12.43" height="1.65" fill="#f7cdd0"/><rect x="38.40" y="725.00" width="12.43" height="1.65" fill="#b6b3f2"/><rect x="50.78" y="725.00" width="12.43" height="1.65" fill="#a8a6f0"/><rect x="63.17" y="725.00" width="12.43" height="1.65" fill="#dcd8f6"/><rect x="75.55" y="725.00" width="12.43" height="1.65" fill="#ef959a"/><rect x="87.93" y="725.00" width="12.43" height="1.65" fill="#f09ca1"/><rect x="100.32" y="725.00" width="12.43" height="1.65" fill="#f6c9cc"/><rect x="38.40" y="726.60" width="12.43" height="1.65" fill="#bbb9f3"/><rect x="50.78" y="726.60" width="12.43" height="1.65" fill="#a9a8f1"/><rect x="63.17" y="726.60" width="12.43" height="1.65" fill="#e4e1f7"/><rect x="75.55" y="726.60" width="12.43" height="1.65" fill="#f0989c"/><rect x="87.93" y="726.60" width="12.43" height="1.65" fill="#f2aaae"/><rect x="100.32" y="726.60" width="12.43" height="1.65" fill="#f7d3d6"/><rect x="38.40" y="728.20" width="12.43" height="1.65" fill="#bbb8f3"/><rect x="50.78" y="728.20" width="12.43" height="1.65" fill="#aaa8f1"/><rect x="63.17" y="728.20" width="12.43" height="1.65" fill="#e4e1f7"/><rect x="75.55" y="728.20" width="12.43" height="1.65" fill="#f19ea2"/><rect x="87.93" y="728.20" width="12.43" height="1.65" fill="#f09ba0"/><rect x="100.32" y="728.20" width="12.43" height="1.65" fill="#f8d9dc"/><rect x="38.40" y="729.80" width="12.43" height="1.65" fill="#c4c1f4"/><rect x="50.78" y="729.80" width="12.43" height="1.65" fill="#a6a4f0"/><rect x="63.17" y="729.80" width="12.43" height="1.65" fill="#edeaf8"/><rect x="75.55" y="729.80" width="12.43" height="1.65" fill="#f2a8ac"/><rect x="87.93" y="729.80" width="12.43" height="1.65" fill="#f1a0a4"/><rect x="100.32" y="729.80" width="12.43" height="1.65" fill="#faebee"/><rect x="38.40" y="731.40" width="12.43" height="1.65" fill="#e1def7"/><rect x="50.78" y="731.40" width="12.43" height="1.65" fill="#a2a1f0"/><rect x="63.17" y="731.40" width="12.43" height="1.65" fill="#dbd8f6"/><rect x="75.55" y="731.40" width="12.43" height="1.65" fill="#f3b4b8"/><rect x="87.93" y="731.40" width="12.43" height="1.65" fill="#f3adb1"/><rect x="100.32" y="731.40" width="12.43" height="1.65" fill="#f9dde0"/><rect x="38.40" y="733.00" width="12.43" height="1.65" fill="#dedaf7"/><rect x="50.78" y="733.00" width="12.43" height="1.65" fill="#bdbbf3"/><rect x="63.17" y="733.00" width="12.43" height="1.65" fill="#e1def7"/><rect x="75.55" y="733.00" width="12.43" height="1.65" fill="#f3b4b7"/><rect x="87.93" y="733.00" width="12.43" height="1.65" fill="#f6c9cd"/><rect x="100.32" y="733.00" width="12.43" height="1.65" fill="#f8d9dc"/><rect x="38.40" y="734.60" width="12.43" height="1.65" fill="#ccc9f5"/><rect x="50.78" y="734.60" width="12.43" height="1.65" fill="#b6b4f2"/><rect x="63.17" y="734.60" width="12.43" height="1.65" fill="#e0dcf7"/><rect x="75.55" y="734.60" width="12.43" height="1.65" fill="#f5c4c7"/><rect x="87.93" y="734.60" width="12.43" height="1.65" fill="#f5c1c5"/><rect x="100.32" y="734.60" width="12.43" height="1.65" fill="#faebed"/><rect x="38.40" y="736.20" width="12.43" height="1.65" fill="#bfbdf3"/><rect x="50.78" y="736.20" width="12.43" height="1.65" fill="#bfbdf3"/><rect x="63.17" y="736.20" width="12.43" height="1.65" fill="#dfdbf7"/><rect x="75.55" y="736.20" width="12.43" height="1.65" fill="#f4b8bc"/><rect x="87.93" y="736.20" width="12.43" height="1.65" fill="#f3b2b6"/><rect x="100.32" y="736.20" width="12.43" height="1.65" fill="#f9dee1"/><rect x="38.40" y="737.80" width="12.43" height="1.65" fill="#c3c1f4"/><rect x="50.78" y="737.80" width="12.43" height="1.65" fill="#bbb9f3"/><rect x="63.17" y="737.80" width="12.43" height="1.65" fill="#cac8f4"/><rect x="75.55" y="737.80" width="12.43" height="1.65" fill="#f2a9ad"/><rect x="87.93" y="737.80" width="12.43" height="1.65" fill="#f4babd"/><rect x="100.32" y="737.80" width="12.43" height="1.65" fill="#f9e0e3"/><rect x="38.40" y="739.40" width="12.43" height="1.65" fill="#bebcf3"/><rect x="50.78" y="739.40" width="12.43" height="1.65" fill="#aeacf1"/><rect x="63.17" y="739.40" width="12.43" height="1.65" fill="#cecbf5"/><rect x="75.55" y="739.40" width="12.43" height="1.65" fill="#f1a2a6"/><rect x="87.93" y="739.40" width="12.43" height="1.65" fill="#f19ea2"/><rect x="100.32" y="739.40" width="12.43" height="1.65" fill="#fbf0f2"/><rect x="38.40" y="741.00" width="12.43" height="1.65" fill="#c2c0f3"/><rect x="50.78" y="741.00" width="12.43" height="1.65" fill="#c4c2f4"/><rect x="63.17" y="741.00" width="12.43" height="1.65" fill="#e2dff7"/><rect x="75.55" y="741.00" width="12.43" height="1.65" fill="#f0989d"/><rect x="87.93" y="741.00" width="12.43" height="1.65" fill="#f1a2a6"/><rect x="100.32" y="741.00" width="12.43" height="1.65" fill="#f8d7da"/><rect x="38.40" y="742.60" width="12.43" height="1.65" fill="#d0cdf5"/><rect x="50.78" y="742.60" width="12.43" height="1.65" fill="#c8c5f4"/><rect x="63.17" y="742.60" width="12.43" height="1.65" fill="#cdcaf5"/><rect x="75.55" y="742.60" width="12.43" height="1.65" fill="#ef9095"/><rect x="87.93" y="742.60" width="12.43" height="1.65" fill="#f19ea3"/><rect x="100.32" y="742.60" width="12.43" height="1.65" fill="#f7d1d4"/></g>
<text x="163.59" y="462.60" font-size="17.50" font-weight="bold" fill="#111" stroke="#111" stroke-width="0.35">G</text>
<text x="300.85" y="486.95" font-size="7.10" letter-spacing="0.4" fill="#000" stroke="#000" stroke-width="0.15">0.0</text>
<text x="320.42" y="486.95" font-size="7.10" letter-spacing="0.4" fill="#000" stroke="#000" stroke-width="0.15">1.0</text>
<text x="340.21" y="486.95" font-size="7.10" letter-spacing="0.4" fill="#000" stroke="#000" stroke-width="0.15">2.0</text>
<text x="359.95" y="486.95" font-size="7.10" letter-spacing="0.4" fill="#000" stroke="#000" stroke-width="0.15">3.0</text>
<text x="379.72" y="486.95" font-size="7.10" letter-spacing="0.4" fill="#000" stroke="#000" stroke-width="0.15">4.0</text>
<text x="399.35" y="486.95" font-size="7.10" letter-spacing="0.4" fill="#000" stroke="#000" stroke-width="0.15">5.0</text>
<text x="419.01" y="486.95" font-size="7.10" letter-spacing="0.4" fill="#000" stroke="#000" stroke-width="0.15">6.0</text>
<text x="438.71" y="486.95" font-size="7.10" letter-spacing="0.4" fill="#000" stroke="#000" stroke-width="0.15">7.0</text>
<text x="458.43" y="486.95" font-size="7.10" letter-spacing="0.4" fill="#000" stroke="#000" stroke-width="0.15">8.0</text>
<text x="478.13" y="486.95" font-size="7.10" letter-spacing="0.4" fill="#000" stroke="#000" stroke-width="0.15">9.0</text>
<text x="373.09" y="476.96" font-size="7.81" textLength="51.50" lengthAdjust="spacingAndGlyphs" fill="#222">-log(p-value)</text>
<line x1="332.21" y1="489.50" x2="332.21" y2="678.70" stroke="#d8d8d8" stroke-width="0.7" stroke-dasharray="1,1.5"/>
<rect x="306.60" y="496.80" width="172.30" height="6.40" fill="#0d2e95"/>
<rect x="306.60" y="515.90" width="154.10" height="6.40" fill="#0d2e95"/>
<rect x="306.60" y="534.90" width="149.10" height="6.40" fill="#0d2e95"/>
<rect x="306.60" y="554.00" width="149.10" height="6.40" fill="#0d2e95"/>
<rect x="306.60" y="573.00" width="149.10" height="6.40" fill="#0d2e95"/>
<rect x="306.60" y="592.00" width="149.10" height="6.40" fill="#0d2e95"/>
<rect x="306.60" y="610.90" width="135.20" height="6.40" fill="#0d2e95"/>
<rect x="306.60" y="629.80" width="134.80" height="6.40" fill="#0d2e95"/>
<rect x="306.60" y="648.80" width="134.80" height="6.40" fill="#0d2e95"/>
<rect x="306.60" y="667.80" width="133.90" height="6.40" fill="#0d2e95"/>
<rect x="306.60" y="489.50" width="180.70" height="189.20" fill="none" stroke="#111" stroke-width="1.3"/>
<text stroke="#222" stroke-width="0.22" x="166.47" y="503.00" font-size="9.25" fill="#222">Immunological Disease</text>
<text stroke="#222" stroke-width="0.22" x="166.84" y="521.70" font-size="9.25" fill="#222">Cellular Growth and Proliferation</text>
<text stroke="#222" stroke-width="0.22" x="167.30" y="540.50" font-size="9.25" fill="#222">Antigen Presentation</text>
<text stroke="#222" stroke-width="0.22" x="166.84" y="560.30" font-size="9.25" fill="#222">Cell-mediated Immune Response</text>
<text stroke="#222" stroke-width="0.22" x="166.56" y="578.50" font-size="9.25" fill="#222">Humoral Immune Response</text>
<text stroke="#222" stroke-width="0.22" x="166.47" y="598.40" font-size="9.25" fill="#222">Inflammatory Response</text>
<text stroke="#222" stroke-width="0.22" x="166.84" y="617.10" font-size="9.25" fill="#222">Cellular Development</text>
<text stroke="#222" stroke-width="0.22" x="166.56" y="631.50" font-size="9.25" fill="#222">Hematological System</text>
<text stroke="#222" stroke-width="0.22" x="166.56" y="641.00" font-size="9.25" fill="#222">Development and Function</text>
<text stroke="#222" stroke-width="0.22" x="167.12" y="654.60" font-size="9.25" fill="#222">Tissue Morphology</text>
<text stroke="#222" stroke-width="0.22" x="166.84" y="672.80" font-size="9.25" fill="#222">Cell Death</text></svg>
</body></html>
